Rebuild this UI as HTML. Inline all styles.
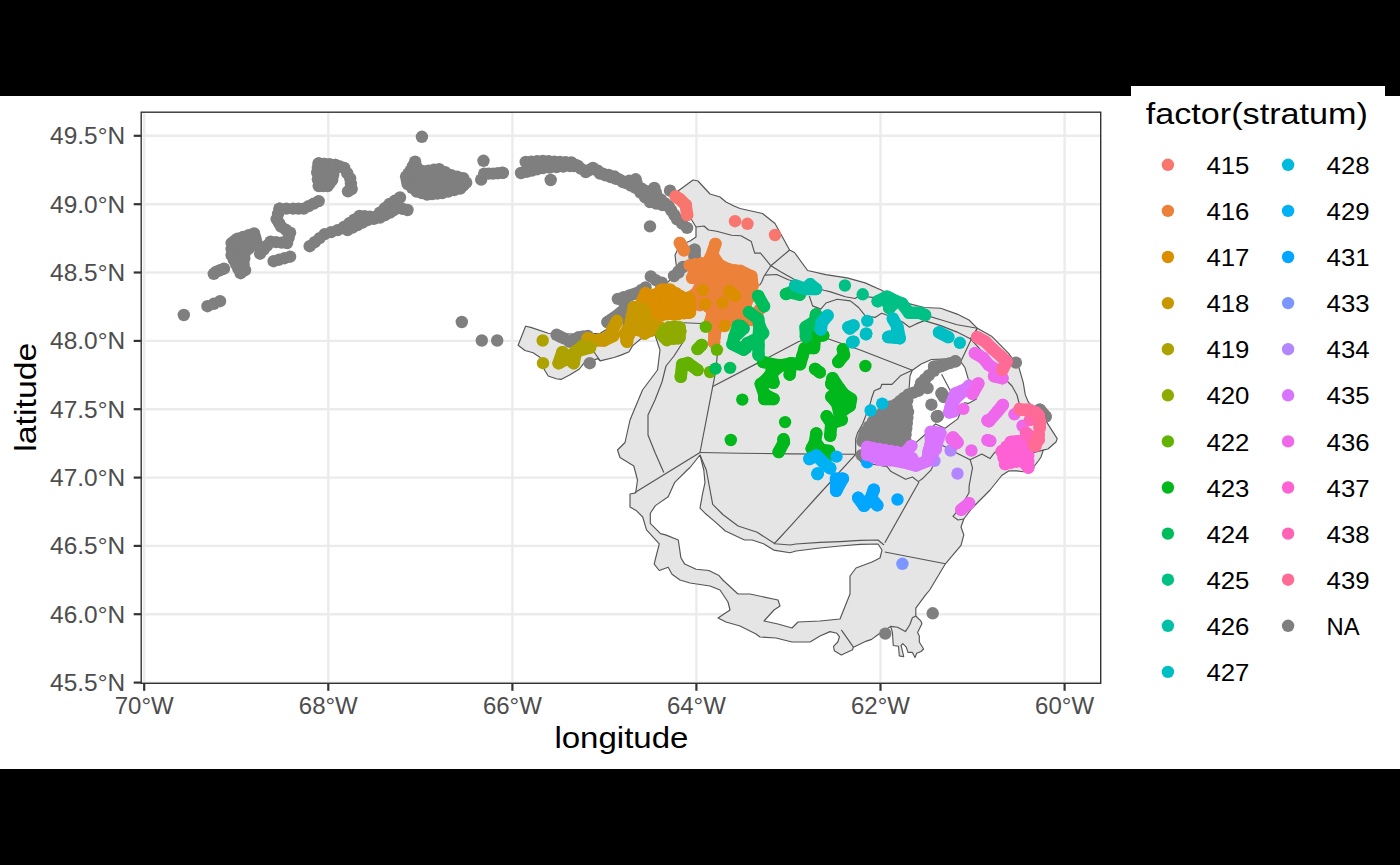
<!DOCTYPE html><html><head><meta charset="utf-8"><style>html,body{margin:0;padding:0;background:#000;overflow:hidden}svg{display:block}</style></head><body>
<svg width="1400" height="865" viewBox="0 0 1400 865">
<rect x="0" y="0" width="1400" height="865" fill="#000"/>
<rect x="0" y="96" width="1400" height="673" fill="#fff"/>
<rect x="1131" y="86" width="254" height="10" fill="#fff"/>
<rect x="141.2" y="112.2" width="959.5" height="571.0999999999999" fill="#fff"/>
<line x1="144.2" y1="112.2" x2="144.2" y2="683.3" stroke="#EBEBEB" stroke-width="2.4"/>
<line x1="328.3" y1="112.2" x2="328.3" y2="683.3" stroke="#EBEBEB" stroke-width="2.4"/>
<line x1="512.4" y1="112.2" x2="512.4" y2="683.3" stroke="#EBEBEB" stroke-width="2.4"/>
<line x1="696.4" y1="112.2" x2="696.4" y2="683.3" stroke="#EBEBEB" stroke-width="2.4"/>
<line x1="880.5" y1="112.2" x2="880.5" y2="683.3" stroke="#EBEBEB" stroke-width="2.4"/>
<line x1="1064.6" y1="112.2" x2="1064.6" y2="683.3" stroke="#EBEBEB" stroke-width="2.4"/>
<line x1="141.2" y1="135.8" x2="1100.7" y2="135.8" stroke="#EBEBEB" stroke-width="2.4"/>
<line x1="141.2" y1="204.2" x2="1100.7" y2="204.2" stroke="#EBEBEB" stroke-width="2.4"/>
<line x1="141.2" y1="272.5" x2="1100.7" y2="272.5" stroke="#EBEBEB" stroke-width="2.4"/>
<line x1="141.2" y1="340.9" x2="1100.7" y2="340.9" stroke="#EBEBEB" stroke-width="2.4"/>
<line x1="141.2" y1="409.2" x2="1100.7" y2="409.2" stroke="#EBEBEB" stroke-width="2.4"/>
<line x1="141.2" y1="477.6" x2="1100.7" y2="477.6" stroke="#EBEBEB" stroke-width="2.4"/>
<line x1="141.2" y1="545.9" x2="1100.7" y2="545.9" stroke="#EBEBEB" stroke-width="2.4"/>
<line x1="141.2" y1="614.2" x2="1100.7" y2="614.2" stroke="#EBEBEB" stroke-width="2.4"/>
<line x1="141.2" y1="682.6" x2="1100.7" y2="682.6" stroke="#EBEBEB" stroke-width="2.4"/>
<g stroke="#555" stroke-width="1.15" stroke-linejoin="round" fill="#E5E5E5">
<polygon points="693.0,180.0 698.0,181.0 710.0,194.0 720.0,197.0 726.0,202.0 734.0,206.0 740.0,208.5 762.5,213.5 775.0,223.5 789.6,250.0 794.5,252.5 807.6,270.5 825.7,274.6 847.0,277.9 865.1,282.9 881.6,290.2 898.0,299.3 907.9,303.4 924.3,307.5 940.7,308.3 957.1,314.1 969.0,320.0 977.4,328.3 992.0,336.6 1008.6,353.3 1019.0,367.8 1023.2,382.4 1025.3,394.9 1028.4,402.2 1046.8,422.4 1057.2,438.6 1056.0,442.0 1047.9,449.0 1043.3,450.1 1041.0,457.0 1038.7,460.5 1034.0,466.3 1023.2,471.8 1016.7,470.9 1008.6,470.9 1001.7,475.5 990.1,490.0 971.7,508.5 963.8,519.0 961.0,527.0 963.8,534.8 961.0,545.4 945.4,563.8 929.7,590.0 925.4,595.2 915.8,608.2 915.8,616.0 921.0,621.2 921.9,623.8 917.6,632.5 919.3,635.9 919.3,642.0 923.6,649.0 921.0,651.5 916.7,653.3 915.0,657.6 912.4,652.4 908.0,652.4 906.3,647.2 902.8,643.7 901.1,645.5 903.7,656.7 899.3,655.9 898.5,646.3 893.3,645.5 892.4,632.5 890.7,626.4 878.5,634.2 871.6,639.4 866.4,641.1 853.4,647.2 852.5,649.8 841.3,655.0 834.3,650.7 833.5,646.3 837.8,642.0 839.5,636.8 836.9,633.3 830.0,631.6 820.0,636.0 810.0,642.0 800.0,642.0 792.0,642.0 776.0,638.0 760.0,637.0 756.0,634.0 740.0,626.0 726.0,622.0 718.0,618.0 730.0,610.0 728.0,602.0 720.0,590.0 710.0,586.0 690.0,583.0 680.0,580.0 672.0,574.3 668.2,567.3 659.3,570.5 654.2,564.1 655.4,559.0 659.3,543.8 646.5,529.8 642.7,517.0 636.4,510.7 630.0,506.9 630.0,494.0 635.7,492.9 637.5,480.0 633.8,466.0 620.0,457.5 617.5,450.0 625.0,442.5 630.0,420.0 642.5,390.0 657.5,370.0 660.0,350.0 655.0,335.0 650.0,336.6 640.6,339.0 632.5,345.9 629.1,351.7 621.0,355.1 614.0,357.5 600.2,360.9 597.9,358.6 584.0,363.2 579.4,369.0 570.1,374.8 560.9,379.4 556.2,378.8 548.2,376.0 544.7,370.2 540.1,357.5 533.1,352.8 525.0,350.5 518.1,345.3 525.6,326.2 530.8,327.4 548.2,333.2 579.4,334.3 600.2,333.2 606.0,329.7 620.0,321.0 635.0,310.0 652.0,296.0 669.0,281.0 677.0,271.0 675.0,255.0 680.0,245.0 690.0,241.0 696.0,237.0 696.0,227.0 688.0,214.0 678.0,191.0"/>
<polygon points="700.0,455.0 703.8,470.0 705.0,482.7 702.5,494.2 700.0,508.2 705.0,513.2 714.0,520.9 725.4,531.0 744.5,540.0 752.1,540.0 763.5,543.8 773.7,550.1 790.0,552.7 796.0,551.0 820.0,548.0 840.0,546.0 860.0,544.4 878.0,544.0 882.0,550.0 880.0,558.0 872.0,562.0 856.0,568.0 850.0,576.0 850.0,594.0 840.0,619.0 820.0,621.0 798.0,622.0 792.0,628.0 778.0,624.0 764.0,621.0 774.0,610.0 780.0,606.0 778.0,600.0 750.0,594.0 738.0,594.0 722.8,580.0 719.0,575.6 708.9,570.5 696.1,569.2 684.7,564.1 680.9,557.8 678.3,540.0 665.6,534.9 660.5,533.6 650.3,523.4 650.3,513.2 655.4,505.6 668.2,496.7 674.5,482.7 687.2,470.0 690.0,467.5" fill="#fff"/>
<polygon points="912.3,370.3 921.2,364.0 931.4,359.5 949.2,358.9 960.8,361.6 965.0,367.8 968.0,378.2 976.4,399.0 968.3,403.4 964.7,402.7 957.7,418.9 945.0,428.2 935.5,423.9 924.0,435.5 914.7,443.6 909.8,439.0 908.5,411.0 909.0,390.0 910.0,376.0" fill="#fff"/>
<polyline points="696.0,227.0 704.0,226.0 708.5,230.0 716.6,231.2 731.6,235.2 740.9,235.8 751.3,241.6 754.7,253.1 760.5,253.1 770.9,265.8 780.2,271.6 801.0,283.2" fill="none"/>
<polyline points="770.9,265.8 764.0,276.2 761.7,282.0 759.4,285.5" fill="none"/>
<polyline points="765.1,275.1 776.7,274.5 788.3,279.7 801.0,283.2" fill="none"/>
<polyline points="789.6,250.0 770.9,265.8" fill="none"/>
<polyline points="801.0,283.7 824.0,290.2 830.6,291.9 845.4,296.8 855.3,298.5 858.6,296.0 875.0,297.6 891.4,300.9 903.0,304.2 911.0,307.5 924.3,314.9 940.7,319.8 957.1,324.7 977.4,328.3" fill="none"/>
<polyline points="809.3,296.0 812.6,305.9 820.8,309.1 826.0,303.0 837.2,299.3 850.4,300.9 858.6,307.5 865.1,315.7 875.0,317.4 881.6,313.3 895.0,318.0 903.0,322.3 909.5,327.2 916.1,323.9 924.3,320.6 940.7,325.6 957.1,332.1 970.3,338.7 977.4,328.3" fill="none"/>
<polyline points="970.3,338.7 990.0,360.0 1004.0,378.0 1012.0,386.0 1017.0,395.0 1019.0,403.0 1030.0,412.0" fill="none"/>
<polyline points="977.4,328.3 970.0,342.0 960.8,361.6" fill="none"/>
<polyline points="712.7,386.6 798.8,341.5 820.0,336.0 860.2,350.0 912.3,370.3" fill="none"/>
<polyline points="720.0,322.0 716.0,370.0 712.7,386.6 700.0,452.5" fill="none"/>
<polyline points="683.6,322.8 701.6,323.5 720.0,322.0 740.0,320.0" fill="none"/>
<polyline points="700.0,452.5 740.0,453.2 790.0,453.9 855.6,454.3" fill="none"/>
<polyline points="700.0,452.5 635.0,492.5" fill="none"/>
<polyline points="684.0,324.0 683.0,342.0 674.0,356.0 666.0,366.0 662.0,382.0 655.0,400.0 648.0,415.0 648.0,435.0 655.0,452.5 663.8,472.5" fill="none"/>
<polyline points="855.6,454.3 814.0,500.0 790.0,526.7 774.0,544.0" fill="none"/>
<polyline points="919.0,482.0 884.8,542.7" fill="none"/>
<polyline points="884.8,552.0 945.4,563.8" fill="none"/>
<polyline points="841.3,629.9 853.4,647.2" fill="none"/>
<polyline points="890.7,626.4 897.6,627.3 905.4,631.6 909.8,624.7 912.4,617.7 915.8,616.0" fill="none"/>
<polyline points="700.0,455.0 706.3,470.0 712.7,504.3 722.8,514.5 738.1,526.0 757.2,532.3 775.0,543.8 790.0,545.0 796.0,544.0 820.0,542.4 840.0,541.6 860.0,540.4 878.0,540.0 884.0,545.0" fill="none"/>
<polyline points="970.2,459.8 972.5,467.9 969.1,486.0 969.0,492.7 960.0,508.0 953.0,516.4 958.0,520.0 963.8,519.0" fill="none"/>
<polyline points="912.3,370.3 900.9,375.4 892.0,384.3 881.8,384.3 880.5,388.1 874.2,390.7 871.6,398.3 870.3,403.4 866.5,413.6 862.7,423.8 857.6,432.7 855.7,439.0 855.6,454.3 861.0,462.0 873.2,464.3 887.1,466.6 890.6,471.2 905.6,479.3 912.5,477.0 918.3,481.6 923.0,478.2 930.9,470.2 937.9,455.1 941.3,444.7 954.0,451.7 970.2,459.8 981.8,454.0 990.0,458.6 994.7,452.4 1004.5,449.0 1015.0,452.0 1028.3,451.3 1034.0,452.4 1043.3,450.1" fill="none"/>
<polyline points="941.6,374.2 953.0,395.8" fill="none"/>
<polyline points="594.0,352.0 600.2,360.9" fill="none"/>
</g>
<g>
<g fill="#7F7F7F"><circle cx="207.5" cy="306.2" r="6.2"/><circle cx="213.8" cy="303.8" r="6.2"/><circle cx="220.0" cy="301.2" r="6.2"/></g>
<g fill="#7F7F7F"><circle cx="213.8" cy="273.8" r="6.2"/><circle cx="216.5" cy="271.7" r="6.2"/><circle cx="220.2" cy="270.2" r="6.2"/><circle cx="224.0" cy="268.7" r="6.2"/></g>
<polygon points="237.6,238.6 254.1,233.4 256.3,241.6 245.1,252.2 243.6,264.2 245.1,270.2 240.6,273.2 236.1,264.2 231.6,255.2 231.6,243.1" fill="#7F7F7F" stroke="#7F7F7F" stroke-width="6" stroke-linejoin="round"/>
<g fill="#7F7F7F"><circle cx="237.6" cy="238.6" r="6.2"/><circle cx="243.1" cy="236.9" r="6.2"/><circle cx="248.6" cy="235.1" r="6.2"/><circle cx="254.1" cy="233.4" r="6.2"/><circle cx="255.2" cy="237.5" r="6.2"/><circle cx="256.3" cy="241.6" r="6.2"/><circle cx="252.6" cy="245.1" r="6.2"/><circle cx="248.8" cy="248.7" r="6.2"/><circle cx="245.1" cy="252.2" r="6.2"/><circle cx="244.3" cy="258.2" r="6.2"/><circle cx="243.6" cy="264.2" r="6.2"/><circle cx="245.1" cy="270.2" r="6.2"/><circle cx="240.6" cy="273.2" r="6.2"/><circle cx="238.3" cy="268.7" r="6.2"/><circle cx="236.1" cy="264.2" r="6.2"/><circle cx="233.8" cy="259.7" r="6.2"/><circle cx="231.6" cy="255.2" r="6.2"/><circle cx="231.6" cy="249.1" r="6.2"/><circle cx="231.6" cy="243.1" r="6.2"/><circle cx="234.6" cy="240.8" r="6.2"/></g>
<g fill="#7F7F7F"><circle cx="279.6" cy="208.6" r="6.2"/><circle cx="286.4" cy="208.6" r="6.2"/><circle cx="293.1" cy="208.6" r="6.2"/><circle cx="298.4" cy="208.6" r="6.2"/><circle cx="303.7" cy="208.6" r="6.2"/><circle cx="308.7" cy="206.1" r="6.2"/><circle cx="313.7" cy="203.6" r="6.2"/><circle cx="318.7" cy="201.1" r="6.2"/></g>
<g fill="#7F7F7F"><circle cx="279.6" cy="208.6" r="6.2"/><circle cx="278.1" cy="213.8" r="6.2"/><circle cx="276.6" cy="219.1" r="6.2"/><circle cx="278.9" cy="222.8" r="6.2"/><circle cx="281.1" cy="226.6" r="6.2"/><circle cx="285.6" cy="229.6" r="6.2"/><circle cx="290.1" cy="232.6" r="6.2"/><circle cx="288.6" cy="237.8" r="6.2"/><circle cx="287.1" cy="243.1" r="6.2"/><circle cx="281.6" cy="242.6" r="6.2"/><circle cx="276.1" cy="242.1" r="6.2"/><circle cx="270.6" cy="241.6" r="6.2"/><circle cx="267.1" cy="245.6" r="6.2"/><circle cx="263.6" cy="249.7" r="6.2"/><circle cx="260.1" cy="253.7" r="6.2"/></g>
<g fill="#7F7F7F"><circle cx="273.6" cy="261.2" r="6.2"/><circle cx="279.1" cy="259.7" r="6.2"/><circle cx="284.6" cy="258.2" r="6.2"/><circle cx="290.1" cy="256.7" r="6.2"/></g>
<g fill="#7F7F7F"><circle cx="318.7" cy="163.5" r="6.2"/><circle cx="324.2" cy="164.0" r="6.2"/><circle cx="329.7" cy="164.5" r="6.2"/><circle cx="335.2" cy="165.0" r="6.2"/><circle cx="339.7" cy="166.5" r="6.2"/><circle cx="344.2" cy="168.0" r="6.2"/><circle cx="347.2" cy="173.2" r="6.2"/><circle cx="350.2" cy="178.5" r="6.2"/><circle cx="350.9" cy="183.8" r="6.2"/><circle cx="351.7" cy="189.1" r="6.2"/><circle cx="348.0" cy="191.3" r="6.2"/></g>
<polygon points="318.7,163.5 317.2,172.5 318.7,186.1 327.7,186.1 332.2,180.0 335.2,165.0" fill="#7F7F7F" stroke="#7F7F7F" stroke-width="6" stroke-linejoin="round"/>
<g fill="#7F7F7F"><circle cx="318.7" cy="163.5" r="6.2"/><circle cx="317.9" cy="168.0" r="6.2"/><circle cx="317.2" cy="172.5" r="6.2"/><circle cx="317.9" cy="179.3" r="6.2"/><circle cx="318.7" cy="186.1" r="6.2"/><circle cx="323.2" cy="186.1" r="6.2"/><circle cx="327.7" cy="186.1" r="6.2"/><circle cx="329.9" cy="183.1" r="6.2"/><circle cx="332.2" cy="180.0" r="6.2"/><circle cx="333.2" cy="175.0" r="6.2"/><circle cx="334.2" cy="170.0" r="6.2"/><circle cx="335.2" cy="165.0" r="6.2"/><circle cx="329.7" cy="164.5" r="6.2"/><circle cx="324.2" cy="164.0" r="6.2"/></g>
<g fill="#7F7F7F"><circle cx="309.7" cy="246.2" r="6.2"/><circle cx="314.7" cy="242.2" r="6.2"/><circle cx="319.7" cy="238.1" r="6.2"/><circle cx="324.7" cy="234.1" r="6.2"/><circle cx="331.2" cy="232.1" r="6.2"/><circle cx="337.7" cy="230.1" r="6.2"/><circle cx="344.2" cy="228.1" r="6.2"/></g>
<g fill="#7F7F7F"><circle cx="347.5" cy="230.0" r="6.2"/><circle cx="352.5" cy="227.5" r="6.2"/><circle cx="357.5" cy="225.0" r="6.2"/><circle cx="362.5" cy="222.5" r="6.2"/><circle cx="367.5" cy="220.0" r="6.2"/><circle cx="373.8" cy="218.8" r="6.2"/><circle cx="380.0" cy="217.5" r="6.2"/><circle cx="385.0" cy="215.0" r="6.2"/><circle cx="390.0" cy="212.5" r="6.2"/><circle cx="393.8" cy="210.0" r="6.2"/><circle cx="397.5" cy="207.5" r="6.2"/><circle cx="402.5" cy="208.8" r="6.2"/><circle cx="407.5" cy="210.0" r="6.2"/></g>
<g fill="#7F7F7F"><circle cx="344.0" cy="227.0" r="6.2"/><circle cx="349.2" cy="223.3" r="6.2"/><circle cx="354.3" cy="219.7" r="6.2"/><circle cx="359.5" cy="216.0" r="6.2"/><circle cx="364.7" cy="216.3" r="6.2"/><circle cx="369.8" cy="216.7" r="6.2"/><circle cx="375.0" cy="217.0" r="6.2"/><circle cx="379.9" cy="212.7" r="6.2"/><circle cx="384.7" cy="208.3" r="6.2"/><circle cx="389.6" cy="204.0" r="6.2"/><circle cx="394.8" cy="200.8" r="6.2"/><circle cx="400.0" cy="197.5" r="6.2"/></g>
<polygon points="415.1,161.6 418.1,172.1 439.2,169.1 451.2,175.1 463.2,178.1 466.2,182.6 460.2,188.6 442.2,193.1 427.1,194.6 416.6,191.6 407.6,184.1 406.1,176.6 410.6,170.6" fill="#7F7F7F" stroke="#7F7F7F" stroke-width="6" stroke-linejoin="round"/>
<g fill="#7F7F7F"><circle cx="415.1" cy="161.6" r="6.2"/><circle cx="416.6" cy="166.8" r="6.2"/><circle cx="418.1" cy="172.1" r="6.2"/><circle cx="423.4" cy="171.3" r="6.2"/><circle cx="428.6" cy="170.6" r="6.2"/><circle cx="433.9" cy="169.8" r="6.2"/><circle cx="439.2" cy="169.1" r="6.2"/><circle cx="445.2" cy="172.1" r="6.2"/><circle cx="451.2" cy="175.1" r="6.2"/><circle cx="457.2" cy="176.6" r="6.2"/><circle cx="463.2" cy="178.1" r="6.2"/><circle cx="466.2" cy="182.6" r="6.2"/><circle cx="463.2" cy="185.6" r="6.2"/><circle cx="460.2" cy="188.6" r="6.2"/><circle cx="454.2" cy="190.1" r="6.2"/><circle cx="448.2" cy="191.6" r="6.2"/><circle cx="442.2" cy="193.1" r="6.2"/><circle cx="437.2" cy="193.6" r="6.2"/><circle cx="432.1" cy="194.1" r="6.2"/><circle cx="427.1" cy="194.6" r="6.2"/><circle cx="421.9" cy="193.1" r="6.2"/><circle cx="416.6" cy="191.6" r="6.2"/><circle cx="412.1" cy="187.8" r="6.2"/><circle cx="407.6" cy="184.1" r="6.2"/><circle cx="406.9" cy="180.3" r="6.2"/><circle cx="406.1" cy="176.6" r="6.2"/><circle cx="408.4" cy="173.6" r="6.2"/><circle cx="410.6" cy="170.6" r="6.2"/><circle cx="412.9" cy="166.1" r="6.2"/></g>
<g fill="#7F7F7F"><circle cx="481.2" cy="179.6" r="6.2"/><circle cx="484.2" cy="173.6" r="6.2"/><circle cx="488.7" cy="173.6" r="6.2"/><circle cx="493.2" cy="173.6" r="6.2"/><circle cx="497.8" cy="173.2" r="6.2"/><circle cx="502.3" cy="172.8" r="6.2"/></g>
<g fill="#7F7F7F"><circle cx="521.0" cy="173.0" r="6.2"/><circle cx="526.5" cy="171.8" r="6.2"/><circle cx="532.0" cy="170.5" r="6.2"/><circle cx="537.4" cy="169.2" r="6.2"/><circle cx="542.9" cy="168.0" r="6.2"/><circle cx="549.7" cy="167.5" r="6.2"/><circle cx="556.5" cy="167.0" r="6.2"/><circle cx="563.2" cy="166.5" r="6.2"/><circle cx="570.0" cy="166.0" r="6.2"/><circle cx="574.0" cy="166.0" r="6.2"/><circle cx="578.0" cy="166.0" r="6.2"/></g>
<g fill="#7F7F7F"><circle cx="525.7" cy="162.0" r="6.2"/><circle cx="531.4" cy="161.7" r="6.2"/><circle cx="537.2" cy="161.3" r="6.2"/><circle cx="542.9" cy="161.0" r="6.2"/><circle cx="548.6" cy="161.3" r="6.2"/><circle cx="554.3" cy="161.6" r="6.2"/><circle cx="560.0" cy="161.9" r="6.2"/><circle cx="565.7" cy="162.2" r="6.2"/><circle cx="571.4" cy="162.5" r="6.2"/></g>
<g fill="#7F7F7F"><circle cx="575.7" cy="165.0" r="6.2"/><circle cx="580.7" cy="168.6" r="6.2"/><circle cx="585.7" cy="172.1" r="6.2"/><circle cx="589.3" cy="170.0" r="6.2"/><circle cx="592.9" cy="167.9" r="6.2"/><circle cx="597.9" cy="170.8" r="6.2"/><circle cx="602.9" cy="173.6" r="6.2"/><circle cx="608.6" cy="175.0" r="6.2"/><circle cx="614.3" cy="176.4" r="6.2"/><circle cx="618.6" cy="179.2" r="6.2"/><circle cx="622.9" cy="182.1" r="6.2"/><circle cx="629.3" cy="180.7" r="6.2"/><circle cx="635.7" cy="179.3" r="6.2"/><circle cx="636.4" cy="182.9" r="6.2"/><circle cx="637.1" cy="186.4" r="6.2"/><circle cx="641.9" cy="188.8" r="6.2"/><circle cx="646.6" cy="191.2" r="6.2"/><circle cx="651.4" cy="193.6" r="6.2"/><circle cx="654.3" cy="187.9" r="6.2"/><circle cx="655.7" cy="192.2" r="6.2"/><circle cx="657.1" cy="196.4" r="6.2"/><circle cx="660.9" cy="199.7" r="6.2"/><circle cx="664.8" cy="203.1" r="6.2"/><circle cx="668.6" cy="206.4" r="6.2"/><circle cx="671.4" cy="210.7" r="6.2"/><circle cx="674.3" cy="215.0" r="6.2"/><circle cx="677.1" cy="219.3" r="6.2"/><circle cx="682.1" cy="223.6" r="6.2"/><circle cx="687.1" cy="227.9" r="6.2"/></g>
<g fill="#7F7F7F"><circle cx="600.0" cy="173.6" r="6.2"/><circle cx="605.4" cy="175.4" r="6.2"/><circle cx="610.7" cy="177.1" r="6.2"/><circle cx="616.0" cy="178.9" r="6.2"/><circle cx="621.4" cy="180.7" r="6.2"/><circle cx="626.2" cy="183.1" r="6.2"/><circle cx="630.9" cy="185.5" r="6.2"/><circle cx="635.7" cy="187.9" r="6.2"/><circle cx="640.5" cy="192.6" r="6.2"/><circle cx="645.2" cy="197.4" r="6.2"/><circle cx="650.0" cy="202.1" r="6.2"/><circle cx="656.2" cy="203.5" r="6.2"/><circle cx="662.4" cy="205.0" r="6.2"/><circle cx="668.6" cy="206.4" r="6.2"/></g>
<g fill="#7F7F7F"><circle cx="650.8" cy="276.4" r="6.2"/><circle cx="655.7" cy="280.1" r="6.2"/><circle cx="660.6" cy="283.9" r="6.2"/></g>
<g fill="#7F7F7F"><circle cx="674.0" cy="276.0" r="6.2"/><circle cx="678.5" cy="271.5" r="6.2"/><circle cx="683.0" cy="267.0" r="6.2"/></g>
<g fill="#7F7F7F"><circle cx="645.6" cy="287.4" r="6.2"/><circle cx="641.0" cy="290.3" r="6.2"/><circle cx="636.4" cy="293.2" r="6.2"/><circle cx="632.9" cy="294.4" r="6.2"/><circle cx="629.4" cy="295.5" r="6.2"/><circle cx="623.6" cy="297.2" r="6.2"/><circle cx="617.9" cy="298.9" r="6.2"/></g>
<g fill="#7F7F7F"><circle cx="556.6" cy="334.8" r="6.2"/><circle cx="560.0" cy="336.5" r="6.2"/><circle cx="563.5" cy="338.2" r="6.2"/><circle cx="569.3" cy="341.7" r="6.2"/><circle cx="574.0" cy="339.4" r="6.2"/><circle cx="578.6" cy="337.1" r="6.2"/><circle cx="583.2" cy="336.5" r="6.2"/><circle cx="587.8" cy="335.9" r="6.2"/></g>
<polygon points="877.0,416.0 893.0,407.0 904.0,398.0 908.0,412.0 905.0,440.0 888.0,444.0 866.0,441.0 865.0,432.0" fill="#7F7F7F" stroke="#7F7F7F" stroke-width="6" stroke-linejoin="round"/>
<g fill="#7F7F7F"><circle cx="877.0" cy="416.0" r="6.2"/><circle cx="882.3" cy="413.0" r="6.2"/><circle cx="887.7" cy="410.0" r="6.2"/><circle cx="893.0" cy="407.0" r="6.2"/><circle cx="896.7" cy="404.0" r="6.2"/><circle cx="900.3" cy="401.0" r="6.2"/><circle cx="904.0" cy="398.0" r="6.2"/><circle cx="905.3" cy="402.7" r="6.2"/><circle cx="906.7" cy="407.3" r="6.2"/><circle cx="908.0" cy="412.0" r="6.2"/><circle cx="907.4" cy="417.6" r="6.2"/><circle cx="906.8" cy="423.2" r="6.2"/><circle cx="906.2" cy="428.8" r="6.2"/><circle cx="905.6" cy="434.4" r="6.2"/><circle cx="905.0" cy="440.0" r="6.2"/><circle cx="899.3" cy="441.3" r="6.2"/><circle cx="893.7" cy="442.7" r="6.2"/><circle cx="888.0" cy="444.0" r="6.2"/><circle cx="882.5" cy="443.2" r="6.2"/><circle cx="877.0" cy="442.5" r="6.2"/><circle cx="871.5" cy="441.8" r="6.2"/><circle cx="866.0" cy="441.0" r="6.2"/><circle cx="865.5" cy="436.5" r="6.2"/><circle cx="865.0" cy="432.0" r="6.2"/><circle cx="869.0" cy="426.7" r="6.2"/><circle cx="873.0" cy="421.3" r="6.2"/></g>
<g fill="#7F7F7F"><circle cx="955.5" cy="361.4" r="6.2"/><circle cx="950.0" cy="363.1" r="6.2"/><circle cx="944.5" cy="364.8" r="6.2"/><circle cx="939.0" cy="366.5" r="6.2"/><circle cx="933.9" cy="370.9" r="6.2"/><circle cx="928.8" cy="375.4" r="6.2"/><circle cx="925.0" cy="379.2" r="6.2"/><circle cx="921.2" cy="383.0" r="6.2"/><circle cx="920.0" cy="386.9" r="6.2"/><circle cx="918.7" cy="390.7" r="6.2"/><circle cx="913.6" cy="392.6" r="6.2"/><circle cx="908.5" cy="394.5" r="6.2"/><circle cx="907.2" cy="400.2" r="6.2"/><circle cx="906.0" cy="406.0" r="6.2"/></g>
<g fill="#7F7F7F"><circle cx="183.8" cy="315.0" r="6.2"/><circle cx="483.5" cy="160.8" r="6.2"/><circle cx="421.9" cy="136.8" r="6.2"/><circle cx="461.8" cy="322.0" r="6.2"/><circle cx="481.8" cy="340.5" r="6.2"/><circle cx="497.2" cy="340.5" r="6.2"/><circle cx="502.9" cy="172.9" r="6.2"/><circle cx="670.0" cy="190.7" r="6.2"/><circle cx="550.7" cy="180.0" r="6.2"/><circle cx="650.0" cy="226.4" r="6.2"/><circle cx="694.6" cy="249.7" r="6.2"/><circle cx="694.6" cy="256.6" r="6.2"/><circle cx="678.5" cy="272.5" r="6.2"/><circle cx="661.8" cy="282.7" r="6.2"/><circle cx="624.8" cy="301.2" r="6.2"/><circle cx="624.8" cy="309.3" r="6.2"/><circle cx="617.9" cy="315.1" r="6.2"/><circle cx="627.1" cy="319.7" r="6.2"/><circle cx="607.5" cy="322.1" r="6.2"/><circle cx="589.8" cy="363.2" r="6.2"/><circle cx="890.5" cy="406.6" r="6.2"/><circle cx="905.5" cy="414.7" r="6.2"/><circle cx="896.2" cy="418.2" r="6.2"/><circle cx="882.4" cy="417.0" r="6.2"/><circle cx="872.0" cy="426.2" r="6.2"/><circle cx="865.0" cy="433.2" r="6.2"/><circle cx="862.7" cy="441.3" r="6.2"/><circle cx="880.1" cy="428.6" r="6.2"/><circle cx="890.5" cy="426.2" r="6.2"/><circle cx="900.9" cy="426.2" r="6.2"/><circle cx="903.2" cy="437.8" r="6.2"/><circle cx="893.9" cy="437.8" r="6.2"/><circle cx="882.4" cy="437.8" r="6.2"/><circle cx="873.1" cy="436.6" r="6.2"/><circle cx="890.5" cy="445.9" r="6.2"/><circle cx="903.2" cy="444.7" r="6.2"/><circle cx="861.6" cy="455.1" r="6.2"/><circle cx="871.8" cy="426.6" r="6.2"/><circle cx="890.3" cy="408.2" r="6.2"/><circle cx="941.6" cy="393.2" r="6.2"/><circle cx="931.4" cy="404.7" r="6.2"/><circle cx="937.7" cy="416.1" r="6.2"/><circle cx="927.6" cy="388.1" r="6.2"/><circle cx="955.2" cy="361.3" r="6.2"/><circle cx="941.3" cy="366.0" r="6.2"/><circle cx="934.1" cy="366.6" r="6.2"/><circle cx="1015.9" cy="362.6" r="6.2"/><circle cx="1039.8" cy="409.7" r="6.2"/><circle cx="1045.6" cy="416.6" r="6.2"/><circle cx="943.9" cy="396.9" r="6.2"/><circle cx="936.9" cy="416.6" r="6.2"/><circle cx="932.7" cy="613.3" r="6.2"/><circle cx="885.3" cy="633.6" r="6.2"/></g>
<path d="M694.6 249.7L694.6 256.6M624.8 301.2L624.8 309.3M624.8 309.3L617.9 315.1M624.8 309.3L627.1 319.7M617.9 315.1L627.1 319.7M617.9 315.1L607.5 322.1M890.5 406.6L890.3 408.2M905.5 414.7L896.2 418.2M905.5 414.7L900.9 426.2M896.2 418.2L890.5 426.2M896.2 418.2L900.9 426.2M896.2 418.2L890.3 408.2M882.4 417.0L880.1 428.6M882.4 417.0L890.5 426.2M882.4 417.0L890.3 408.2M872.0 426.2L865.0 433.2M872.0 426.2L880.1 428.6M872.0 426.2L873.1 436.6M872.0 426.2L871.8 426.6M865.0 433.2L862.7 441.3M865.0 433.2L873.1 436.6M865.0 433.2L871.8 426.6M862.7 441.3L873.1 436.6M880.1 428.6L890.5 426.2M880.1 428.6L882.4 437.8M880.1 428.6L873.1 436.6M880.1 428.6L871.8 426.6M890.5 426.2L900.9 426.2M890.5 426.2L893.9 437.8M900.9 426.2L903.2 437.8M903.2 437.8L893.9 437.8M903.2 437.8L903.2 444.7M893.9 437.8L882.4 437.8M893.9 437.8L890.5 445.9M893.9 437.8L903.2 444.7M882.4 437.8L873.1 436.6M882.4 437.8L890.5 445.9M873.1 436.6L871.8 426.6M941.6 393.2L943.9 396.9M937.7 416.1L936.9 416.6M941.3 366.0L934.1 366.6M1039.8 409.7L1045.6 416.6" stroke="#7F7F7F" stroke-width="12.4" stroke-linecap="round" fill="none"/>
<path d="M624.8 309.3L617.9 315.1L627.1 319.7ZM905.5 414.7L896.2 418.2L900.9 426.2ZM896.2 418.2L890.5 426.2L900.9 426.2ZM882.4 417.0L880.1 428.6L890.5 426.2ZM872.0 426.2L865.0 433.2L873.1 436.6ZM872.0 426.2L865.0 433.2L871.8 426.6ZM872.0 426.2L880.1 428.6L873.1 436.6ZM872.0 426.2L880.1 428.6L871.8 426.6ZM872.0 426.2L873.1 436.6L871.8 426.6ZM865.0 433.2L862.7 441.3L873.1 436.6ZM865.0 433.2L873.1 436.6L871.8 426.6ZM880.1 428.6L882.4 437.8L873.1 436.6ZM880.1 428.6L873.1 436.6L871.8 426.6ZM903.2 437.8L893.9 437.8L903.2 444.7ZM893.9 437.8L882.4 437.8L890.5 445.9Z" fill="#7F7F7F"/>
<g fill="#F8766D"><circle cx="675.7" cy="196.4" r="6.2"/><circle cx="680.0" cy="199.3" r="6.2"/><circle cx="685.7" cy="205.0" r="6.2"/><circle cx="687.1" cy="215.0" r="6.2"/><circle cx="735.0" cy="221.2" r="6.2"/><circle cx="747.5" cy="223.8" r="6.2"/><circle cx="775.0" cy="235.0" r="6.2"/></g>
<path d="M675.7 196.4L680.0 199.3M680.0 199.3L685.7 205.0M685.7 205.0L687.1 215.0" stroke="#F8766D" stroke-width="12.4" stroke-linecap="round" fill="none"/>
<g fill="#EC8239"><circle cx="689.6" cy="265.1" r="6.2"/><circle cx="695.6" cy="264.2" r="6.2"/><circle cx="701.6" cy="263.3" r="6.2"/><circle cx="706.2" cy="263.9" r="6.2"/><circle cx="710.9" cy="264.5" r="6.2"/><circle cx="715.5" cy="265.1" r="6.2"/><circle cx="720.1" cy="267.0" r="6.2"/><circle cx="724.7" cy="268.8" r="6.2"/><circle cx="729.9" cy="269.4" r="6.2"/><circle cx="735.2" cy="270.1" r="6.2"/><circle cx="740.4" cy="270.7" r="6.2"/><circle cx="745.5" cy="273.4" r="6.2"/><circle cx="750.6" cy="276.2" r="6.2"/><circle cx="751.5" cy="280.9" r="6.2"/><circle cx="752.4" cy="285.5" r="6.2"/><circle cx="751.5" cy="291.1" r="6.2"/><circle cx="750.6" cy="296.6" r="6.2"/></g>
<g fill="#EC8239"><circle cx="692.0" cy="278.0" r="6.2"/><circle cx="698.5" cy="279.5" r="6.2"/><circle cx="705.0" cy="281.0" r="6.2"/><circle cx="711.7" cy="280.3" r="6.2"/><circle cx="718.3" cy="279.7" r="6.2"/><circle cx="725.0" cy="279.0" r="6.2"/><circle cx="730.0" cy="280.7" r="6.2"/><circle cx="735.0" cy="282.3" r="6.2"/><circle cx="740.0" cy="284.0" r="6.2"/></g>
<g fill="#EC8239"><circle cx="693.7" cy="295.0" r="6.2"/><circle cx="699.1" cy="294.3" r="6.2"/><circle cx="704.6" cy="293.7" r="6.2"/><circle cx="710.0" cy="293.0" r="6.2"/><circle cx="715.0" cy="293.3" r="6.2"/><circle cx="720.0" cy="293.7" r="6.2"/><circle cx="725.0" cy="294.0" r="6.2"/><circle cx="730.0" cy="294.7" r="6.2"/><circle cx="735.0" cy="295.3" r="6.2"/><circle cx="740.0" cy="296.0" r="6.2"/><circle cx="745.0" cy="296.0" r="6.2"/><circle cx="750.0" cy="296.0" r="6.2"/></g>
<g fill="#EC8239"><circle cx="745.0" cy="305.0" r="6.2"/><circle cx="741.5" cy="309.5" r="6.2"/><circle cx="738.0" cy="314.0" r="6.2"/><circle cx="741.0" cy="317.0" r="6.2"/><circle cx="744.0" cy="320.0" r="6.2"/><circle cx="748.0" cy="320.0" r="6.2"/><circle cx="752.0" cy="320.0" r="6.2"/></g>
<g fill="#EC8239"><circle cx="700.0" cy="300.0" r="6.2"/><circle cx="704.3" cy="303.7" r="6.2"/><circle cx="708.7" cy="307.3" r="6.2"/><circle cx="713.0" cy="311.0" r="6.2"/><circle cx="718.5" cy="312.0" r="6.2"/><circle cx="724.0" cy="313.0" r="6.2"/><circle cx="728.0" cy="310.3" r="6.2"/><circle cx="732.0" cy="307.7" r="6.2"/><circle cx="736.0" cy="305.0" r="6.2"/></g>
<g fill="#EC8239"><circle cx="715.9" cy="326.6" r="6.2"/><circle cx="715.3" cy="331.8" r="6.2"/><circle cx="714.6" cy="337.1" r="6.2"/><circle cx="714.0" cy="342.3" r="6.2"/></g>
<g fill="#EC8239"><circle cx="715.4" cy="243.9" r="6.2"/><circle cx="712.0" cy="254.3" r="6.2"/><circle cx="707.3" cy="263.5" r="6.2"/><circle cx="694.6" cy="264.7" r="6.2"/><circle cx="718.9" cy="264.7" r="6.2"/><circle cx="728.2" cy="269.3" r="6.2"/><circle cx="740.9" cy="271.6" r="6.2"/><circle cx="751.3" cy="276.2" r="6.2"/><circle cx="752.4" cy="285.5" r="6.2"/><circle cx="749.0" cy="294.7" r="6.2"/><circle cx="745.5" cy="305.1" r="6.2"/><circle cx="738.6" cy="314.4" r="6.2"/><circle cx="744.3" cy="319.0" r="6.2"/><circle cx="693.5" cy="276.2" r="6.2"/><circle cx="703.9" cy="278.6" r="6.2"/><circle cx="714.3" cy="279.7" r="6.2"/><circle cx="724.7" cy="278.6" r="6.2"/><circle cx="694.6" cy="295.9" r="6.2"/><circle cx="707.3" cy="292.4" r="6.2"/><circle cx="713.1" cy="297.1" r="6.2"/><circle cx="722.4" cy="293.6" r="6.2"/><circle cx="739.7" cy="285.5" r="6.2"/><circle cx="735.1" cy="297.1" r="6.2"/><circle cx="736.2" cy="305.1" r="6.2"/><circle cx="713.1" cy="310.9" r="6.2"/><circle cx="724.7" cy="313.2" r="6.2"/><circle cx="724.7" cy="305.1" r="6.2"/><circle cx="716.6" cy="326.0" r="6.2"/><circle cx="759.4" cy="309.8" r="6.2"/><circle cx="679.9" cy="242.9" r="6.2"/><circle cx="684.0" cy="250.3" r="6.2"/><circle cx="715.9" cy="326.6" r="6.2"/><circle cx="714.0" cy="342.3" r="6.2"/><circle cx="710.3" cy="322.0" r="6.2"/><circle cx="714.5" cy="334.0" r="6.2"/><circle cx="700.0" cy="270.0" r="6.2"/><circle cx="710.0" cy="272.0" r="6.2"/><circle cx="720.0" cy="272.0" r="6.2"/><circle cx="730.0" cy="276.0" r="6.2"/><circle cx="740.0" cy="278.0" r="6.2"/><circle cx="748.0" cy="282.0" r="6.2"/><circle cx="700.0" cy="287.0" r="6.2"/><circle cx="712.0" cy="287.0" r="6.2"/><circle cx="725.0" cy="286.0" r="6.2"/><circle cx="735.0" cy="290.0" r="6.2"/><circle cx="745.0" cy="290.0" r="6.2"/><circle cx="700.0" cy="305.0" r="6.2"/><circle cx="713.0" cy="303.0" r="6.2"/><circle cx="728.0" cy="308.0" r="6.2"/><circle cx="740.0" cy="310.0" r="6.2"/><circle cx="718.0" cy="320.0" r="6.2"/><circle cx="730.0" cy="320.0" r="6.2"/><circle cx="705.0" cy="296.0" r="6.2"/><circle cx="718.0" cy="297.0" r="6.2"/><circle cx="745.0" cy="297.0" r="6.2"/></g>
<path d="M715.4 243.9L712.0 254.3M712.0 254.3L707.3 263.5M712.0 254.3L718.9 264.7M707.3 263.5L718.9 264.7M707.3 263.5L700.0 270.0M707.3 263.5L710.0 272.0M694.6 264.7L693.5 276.2M694.6 264.7L700.0 270.0M718.9 264.7L728.2 269.3M718.9 264.7L710.0 272.0M718.9 264.7L720.0 272.0M728.2 269.3L724.7 278.6M728.2 269.3L720.0 272.0M728.2 269.3L730.0 276.0M740.9 271.6L751.3 276.2M740.9 271.6L730.0 276.0M740.9 271.6L740.0 278.0M740.9 271.6L748.0 282.0M751.3 276.2L752.4 285.5M751.3 276.2L740.0 278.0M751.3 276.2L748.0 282.0M752.4 285.5L749.0 294.7M752.4 285.5L748.0 282.0M752.4 285.5L745.0 290.0M749.0 294.7L745.5 305.1M749.0 294.7L745.0 290.0M749.0 294.7L745.0 297.0M745.5 305.1L738.6 314.4M745.5 305.1L736.2 305.1M745.5 305.1L740.0 310.0M745.5 305.1L745.0 297.0M738.6 314.4L744.3 319.0M738.6 314.4L736.2 305.1M738.6 314.4L728.0 308.0M738.6 314.4L740.0 310.0M738.6 314.4L730.0 320.0M744.3 319.0L740.0 310.0M693.5 276.2L703.9 278.6M693.5 276.2L700.0 270.0M703.9 278.6L714.3 279.7M703.9 278.6L700.0 270.0M703.9 278.6L710.0 272.0M703.9 278.6L700.0 287.0M703.9 278.6L712.0 287.0M714.3 279.7L724.7 278.6M714.3 279.7L710.0 272.0M714.3 279.7L720.0 272.0M714.3 279.7L712.0 287.0M714.3 279.7L725.0 286.0M724.7 278.6L720.0 272.0M724.7 278.6L730.0 276.0M724.7 278.6L725.0 286.0M694.6 295.9L700.0 287.0M694.6 295.9L700.0 305.0M694.6 295.9L705.0 296.0M707.3 292.4L713.1 297.1M707.3 292.4L700.0 287.0M707.3 292.4L712.0 287.0M707.3 292.4L713.0 303.0M707.3 292.4L705.0 296.0M707.3 292.4L718.0 297.0M713.1 297.1L722.4 293.6M713.1 297.1L712.0 287.0M713.1 297.1L713.0 303.0M713.1 297.1L705.0 296.0M713.1 297.1L718.0 297.0M722.4 293.6L724.7 305.1M722.4 293.6L712.0 287.0M722.4 293.6L725.0 286.0M722.4 293.6L718.0 297.0M739.7 285.5L735.1 297.1M739.7 285.5L740.0 278.0M739.7 285.5L748.0 282.0M739.7 285.5L735.0 290.0M739.7 285.5L745.0 290.0M735.1 297.1L736.2 305.1M735.1 297.1L735.0 290.0M735.1 297.1L745.0 290.0M735.1 297.1L745.0 297.0M736.2 305.1L724.7 305.1M736.2 305.1L728.0 308.0M736.2 305.1L740.0 310.0M736.2 305.1L745.0 297.0M713.1 310.9L724.7 313.2M713.1 310.9L710.3 322.0M713.1 310.9L713.0 303.0M713.1 310.9L718.0 320.0M724.7 313.2L724.7 305.1M724.7 313.2L728.0 308.0M724.7 313.2L718.0 320.0M724.7 313.2L730.0 320.0M724.7 305.1L713.0 303.0M724.7 305.1L728.0 308.0M724.7 305.1L718.0 297.0M716.6 326.0L715.9 326.6M716.6 326.0L710.3 322.0M716.6 326.0L714.5 334.0M716.6 326.0L718.0 320.0M679.9 242.9L684.0 250.3M715.9 326.6L710.3 322.0M715.9 326.6L714.5 334.0M715.9 326.6L718.0 320.0M714.0 342.3L714.5 334.0M710.3 322.0L718.0 320.0M700.0 270.0L710.0 272.0M710.0 272.0L720.0 272.0M720.0 272.0L730.0 276.0M730.0 276.0L740.0 278.0M730.0 276.0L725.0 286.0M740.0 278.0L748.0 282.0M748.0 282.0L745.0 290.0M700.0 287.0L712.0 287.0M700.0 287.0L705.0 296.0M712.0 287.0L705.0 296.0M712.0 287.0L718.0 297.0M725.0 286.0L735.0 290.0M735.0 290.0L745.0 290.0M735.0 290.0L745.0 297.0M745.0 290.0L745.0 297.0M700.0 305.0L705.0 296.0M713.0 303.0L705.0 296.0M713.0 303.0L718.0 297.0M728.0 308.0L740.0 310.0M728.0 308.0L730.0 320.0M718.0 320.0L730.0 320.0" stroke="#EC8239" stroke-width="12.4" stroke-linecap="round" fill="none"/>
<path d="M712.0 254.3L707.3 263.5L718.9 264.7ZM707.3 263.5L718.9 264.7L710.0 272.0ZM707.3 263.5L700.0 270.0L710.0 272.0ZM694.6 264.7L693.5 276.2L700.0 270.0ZM718.9 264.7L728.2 269.3L720.0 272.0ZM718.9 264.7L710.0 272.0L720.0 272.0ZM728.2 269.3L724.7 278.6L720.0 272.0ZM728.2 269.3L724.7 278.6L730.0 276.0ZM728.2 269.3L720.0 272.0L730.0 276.0ZM740.9 271.6L751.3 276.2L740.0 278.0ZM740.9 271.6L751.3 276.2L748.0 282.0ZM740.9 271.6L730.0 276.0L740.0 278.0ZM740.9 271.6L740.0 278.0L748.0 282.0ZM751.3 276.2L752.4 285.5L748.0 282.0ZM751.3 276.2L740.0 278.0L748.0 282.0ZM752.4 285.5L749.0 294.7L745.0 290.0ZM752.4 285.5L748.0 282.0L745.0 290.0ZM749.0 294.7L745.5 305.1L745.0 297.0ZM749.0 294.7L745.0 290.0L745.0 297.0ZM745.5 305.1L738.6 314.4L736.2 305.1ZM745.5 305.1L738.6 314.4L740.0 310.0ZM745.5 305.1L736.2 305.1L740.0 310.0ZM745.5 305.1L736.2 305.1L745.0 297.0ZM738.6 314.4L744.3 319.0L740.0 310.0ZM738.6 314.4L736.2 305.1L728.0 308.0ZM738.6 314.4L736.2 305.1L740.0 310.0ZM738.6 314.4L728.0 308.0L740.0 310.0ZM738.6 314.4L728.0 308.0L730.0 320.0ZM693.5 276.2L703.9 278.6L700.0 270.0ZM703.9 278.6L714.3 279.7L710.0 272.0ZM703.9 278.6L714.3 279.7L712.0 287.0ZM703.9 278.6L700.0 270.0L710.0 272.0ZM703.9 278.6L700.0 287.0L712.0 287.0ZM714.3 279.7L724.7 278.6L720.0 272.0ZM714.3 279.7L724.7 278.6L725.0 286.0ZM714.3 279.7L710.0 272.0L720.0 272.0ZM724.7 278.6L720.0 272.0L730.0 276.0ZM724.7 278.6L730.0 276.0L725.0 286.0ZM694.6 295.9L700.0 287.0L705.0 296.0ZM694.6 295.9L700.0 305.0L705.0 296.0ZM707.3 292.4L713.1 297.1L712.0 287.0ZM707.3 292.4L713.1 297.1L713.0 303.0ZM707.3 292.4L713.1 297.1L705.0 296.0ZM707.3 292.4L713.1 297.1L718.0 297.0ZM707.3 292.4L700.0 287.0L712.0 287.0ZM707.3 292.4L700.0 287.0L705.0 296.0ZM707.3 292.4L712.0 287.0L705.0 296.0ZM707.3 292.4L712.0 287.0L718.0 297.0ZM707.3 292.4L713.0 303.0L705.0 296.0ZM707.3 292.4L713.0 303.0L718.0 297.0ZM713.1 297.1L722.4 293.6L712.0 287.0ZM713.1 297.1L722.4 293.6L718.0 297.0ZM713.1 297.1L712.0 287.0L705.0 296.0ZM713.1 297.1L712.0 287.0L718.0 297.0ZM713.1 297.1L713.0 303.0L705.0 296.0ZM713.1 297.1L713.0 303.0L718.0 297.0ZM722.4 293.6L724.7 305.1L718.0 297.0ZM722.4 293.6L712.0 287.0L718.0 297.0ZM739.7 285.5L735.1 297.1L735.0 290.0ZM739.7 285.5L735.1 297.1L745.0 290.0ZM739.7 285.5L740.0 278.0L748.0 282.0ZM739.7 285.5L748.0 282.0L745.0 290.0ZM739.7 285.5L735.0 290.0L745.0 290.0ZM735.1 297.1L736.2 305.1L745.0 297.0ZM735.1 297.1L735.0 290.0L745.0 290.0ZM735.1 297.1L735.0 290.0L745.0 297.0ZM735.1 297.1L745.0 290.0L745.0 297.0ZM736.2 305.1L724.7 305.1L728.0 308.0ZM736.2 305.1L728.0 308.0L740.0 310.0ZM713.1 310.9L724.7 313.2L718.0 320.0ZM713.1 310.9L710.3 322.0L718.0 320.0ZM724.7 313.2L724.7 305.1L728.0 308.0ZM724.7 313.2L728.0 308.0L730.0 320.0ZM724.7 313.2L718.0 320.0L730.0 320.0ZM724.7 305.1L713.0 303.0L718.0 297.0ZM716.6 326.0L715.9 326.6L710.3 322.0ZM716.6 326.0L715.9 326.6L714.5 334.0ZM716.6 326.0L715.9 326.6L718.0 320.0ZM716.6 326.0L710.3 322.0L718.0 320.0ZM715.9 326.6L710.3 322.0L718.0 320.0ZM700.0 287.0L712.0 287.0L705.0 296.0ZM735.0 290.0L745.0 290.0L745.0 297.0Z" fill="#EC8239"/>
<polygon points="644.7,300.5 659.5,291.3 676.1,293.1 689.1,301.4 690.0,312.5 678.0,314.4 661.4,314.4 650.3,311.6" fill="#DB8E00" stroke="#DB8E00" stroke-width="6" stroke-linejoin="round"/>
<g fill="#DB8E00"><circle cx="644.7" cy="300.5" r="6.2"/><circle cx="649.6" cy="297.4" r="6.2"/><circle cx="654.6" cy="294.4" r="6.2"/><circle cx="659.5" cy="291.3" r="6.2"/><circle cx="665.0" cy="291.9" r="6.2"/><circle cx="670.6" cy="292.5" r="6.2"/><circle cx="676.1" cy="293.1" r="6.2"/><circle cx="680.4" cy="295.9" r="6.2"/><circle cx="684.8" cy="298.6" r="6.2"/><circle cx="689.1" cy="301.4" r="6.2"/><circle cx="689.5" cy="306.9" r="6.2"/><circle cx="690.0" cy="312.5" r="6.2"/><circle cx="684.0" cy="313.4" r="6.2"/><circle cx="678.0" cy="314.4" r="6.2"/><circle cx="672.5" cy="314.4" r="6.2"/><circle cx="666.9" cy="314.4" r="6.2"/><circle cx="661.4" cy="314.4" r="6.2"/><circle cx="655.8" cy="313.0" r="6.2"/><circle cx="650.3" cy="311.6" r="6.2"/><circle cx="647.5" cy="306.1" r="6.2"/></g>
<g fill="#DB8E00"><circle cx="645.6" cy="293.2" r="6.2"/><circle cx="661.8" cy="289.7" r="6.2"/><circle cx="669.9" cy="289.7" r="6.2"/><circle cx="675.7" cy="294.3" r="6.2"/><circle cx="688.4" cy="297.8" r="6.2"/><circle cx="688.4" cy="312.8" r="6.2"/><circle cx="675.7" cy="314.0" r="6.2"/><circle cx="661.8" cy="315.1" r="6.2"/><circle cx="651.4" cy="310.5" r="6.2"/><circle cx="642.1" cy="301.2" r="6.2"/><circle cx="653.7" cy="301.2" r="6.2"/><circle cx="666.4" cy="302.4" r="6.2"/><circle cx="678.0" cy="303.6" r="6.2"/><circle cx="644.5" cy="309.3" r="6.2"/><circle cx="702.7" cy="290.1" r="6.2"/><circle cx="729.3" cy="291.3" r="6.2"/><circle cx="735.1" cy="295.9" r="6.2"/><circle cx="705.0" cy="304.0" r="6.2"/><circle cx="722.4" cy="302.8" r="6.2"/><circle cx="690.0" cy="299.4" r="6.2"/><circle cx="690.0" cy="310.9" r="6.2"/><circle cx="724.7" cy="326.0" r="6.2"/></g>
<path d="M645.6 293.2L642.1 301.2M645.6 293.2L653.7 301.2M661.8 289.7L669.9 289.7M669.9 289.7L675.7 294.3M675.7 294.3L666.4 302.4M675.7 294.3L678.0 303.6M688.4 297.8L678.0 303.6M688.4 297.8L690.0 299.4M688.4 312.8L690.0 310.9M675.7 314.0L678.0 303.6M661.8 315.1L651.4 310.5M651.4 310.5L653.7 301.2M651.4 310.5L644.5 309.3M642.1 301.2L653.7 301.2M642.1 301.2L644.5 309.3M653.7 301.2L644.5 309.3M666.4 302.4L678.0 303.6M729.3 291.3L735.1 295.9M690.0 299.4L690.0 310.9" stroke="#DB8E00" stroke-width="12.4" stroke-linecap="round" fill="none"/>
<path d="M645.6 293.2L642.1 301.2L653.7 301.2ZM675.7 294.3L666.4 302.4L678.0 303.6ZM651.4 310.5L653.7 301.2L644.5 309.3ZM642.1 301.2L653.7 301.2L644.5 309.3Z" fill="#DB8E00"/>
<polygon points="633.6,307.0 642.9,308.8 648.4,321.8 660.4,327.3 650.3,331.0 631.8,330.1 626.2,340.3 624.4,333.8 629.9,325.5 631.8,316.2" fill="#C79800" stroke="#C79800" stroke-width="6" stroke-linejoin="round"/>
<g fill="#C79800"><circle cx="633.6" cy="307.0" r="6.2"/><circle cx="638.2" cy="307.9" r="6.2"/><circle cx="642.9" cy="308.8" r="6.2"/><circle cx="644.7" cy="313.1" r="6.2"/><circle cx="646.6" cy="317.5" r="6.2"/><circle cx="648.4" cy="321.8" r="6.2"/><circle cx="654.4" cy="324.6" r="6.2"/><circle cx="660.4" cy="327.3" r="6.2"/><circle cx="655.3" cy="329.1" r="6.2"/><circle cx="650.3" cy="331.0" r="6.2"/><circle cx="644.1" cy="330.7" r="6.2"/><circle cx="638.0" cy="330.4" r="6.2"/><circle cx="631.8" cy="330.1" r="6.2"/><circle cx="629.0" cy="335.2" r="6.2"/><circle cx="626.2" cy="340.3" r="6.2"/><circle cx="624.4" cy="333.8" r="6.2"/><circle cx="627.1" cy="329.6" r="6.2"/><circle cx="629.9" cy="325.5" r="6.2"/><circle cx="630.8" cy="320.9" r="6.2"/><circle cx="631.8" cy="316.2" r="6.2"/><circle cx="632.7" cy="311.6" r="6.2"/></g>
<g fill="#C79800"><circle cx="617.0" cy="320.8" r="6.2"/><circle cx="614.7" cy="325.0" r="6.2"/><circle cx="612.4" cy="329.2" r="6.2"/><circle cx="612.4" cy="334.7" r="6.2"/><circle cx="608.2" cy="336.5" r="6.2"/><circle cx="604.0" cy="338.4" r="6.2"/><circle cx="599.0" cy="339.4" r="6.2"/><circle cx="593.9" cy="340.3" r="6.2"/><circle cx="587.4" cy="338.4" r="6.2"/></g>
<g fill="#C79800"><circle cx="636.4" cy="307.0" r="6.2"/><circle cx="634.0" cy="317.4" r="6.2"/><circle cx="641.0" cy="324.4" r="6.2"/><circle cx="649.1" cy="330.1" r="6.2"/><circle cx="659.5" cy="327.8" r="6.2"/><circle cx="628.3" cy="333.6" r="6.2"/><circle cx="627.1" cy="341.7" r="6.2"/><circle cx="616.7" cy="322.1" r="6.2"/><circle cx="612.1" cy="330.1" r="6.2"/><circle cx="613.2" cy="335.9" r="6.2"/><circle cx="604.0" cy="340.5" r="6.2"/><circle cx="594.7" cy="340.5" r="6.2"/><circle cx="587.8" cy="338.2" r="6.2"/><circle cx="644.5" cy="333.6" r="6.2"/></g>
<path d="M636.4 307.0L634.0 317.4M634.0 317.4L641.0 324.4M641.0 324.4L649.1 330.1M641.0 324.4L644.5 333.6M649.1 330.1L659.5 327.8M649.1 330.1L644.5 333.6M628.3 333.6L627.1 341.7M616.7 322.1L612.1 330.1M612.1 330.1L613.2 335.9M613.2 335.9L604.0 340.5M604.0 340.5L594.7 340.5M594.7 340.5L587.8 338.2" stroke="#C79800" stroke-width="12.4" stroke-linecap="round" fill="none"/>
<path d="M641.0 324.4L649.1 330.1L644.5 333.6Z" fill="#C79800"/>
<g fill="#AEA200"><circle cx="542.7" cy="340.5" r="6.2"/><circle cx="562.4" cy="352.1" r="6.2"/><circle cx="582.0" cy="346.3" r="6.2"/><circle cx="590.1" cy="347.5" r="6.2"/><circle cx="576.2" cy="351.0" r="6.2"/><circle cx="543.0" cy="363.2" r="6.2"/><circle cx="558.6" cy="363.2" r="6.2"/><circle cx="573.6" cy="363.2" r="6.2"/><circle cx="579.4" cy="350.5" r="6.2"/><circle cx="585.1" cy="345.9" r="6.2"/><circle cx="568.0" cy="358.0" r="6.2"/></g>
<path d="M562.4 352.1L558.6 363.2M562.4 352.1L568.0 358.0M582.0 346.3L590.1 347.5M582.0 346.3L576.2 351.0M582.0 346.3L579.4 350.5M582.0 346.3L585.1 345.9M590.1 347.5L579.4 350.5M590.1 347.5L585.1 345.9M576.2 351.0L573.6 363.2M576.2 351.0L579.4 350.5M576.2 351.0L585.1 345.9M576.2 351.0L568.0 358.0M558.6 363.2L568.0 358.0M573.6 363.2L568.0 358.0M579.4 350.5L585.1 345.9" stroke="#AEA200" stroke-width="12.4" stroke-linecap="round" fill="none"/>
<path d="M562.4 352.1L558.6 363.2L568.0 358.0ZM582.0 346.3L590.1 347.5L579.4 350.5ZM582.0 346.3L590.1 347.5L585.1 345.9ZM582.0 346.3L576.2 351.0L579.4 350.5ZM582.0 346.3L576.2 351.0L585.1 345.9ZM582.0 346.3L579.4 350.5L585.1 345.9ZM590.1 347.5L579.4 350.5L585.1 345.9ZM576.2 351.0L573.6 363.2L568.0 358.0ZM576.2 351.0L579.4 350.5L585.1 345.9Z" fill="#AEA200"/>
<polygon points="668.7,327.3 679.8,327.3 679.8,337.5 666.9,340.3 661.4,334.7" fill="#8FAA00" stroke="#8FAA00" stroke-width="6" stroke-linejoin="round"/>
<g fill="#8FAA00"><circle cx="668.7" cy="327.3" r="6.2"/><circle cx="674.2" cy="327.3" r="6.2"/><circle cx="679.8" cy="327.3" r="6.2"/><circle cx="679.8" cy="332.4" r="6.2"/><circle cx="679.8" cy="337.5" r="6.2"/><circle cx="673.3" cy="338.9" r="6.2"/><circle cx="666.9" cy="340.3" r="6.2"/><circle cx="664.1" cy="337.5" r="6.2"/><circle cx="661.4" cy="334.7" r="6.2"/><circle cx="665.0" cy="331.0" r="6.2"/></g>
<g fill="#8FAA00"><circle cx="674.5" cy="326.7" r="6.2"/><circle cx="680.3" cy="331.3" r="6.2"/><circle cx="666.4" cy="338.2" r="6.2"/><circle cx="678.0" cy="338.2" r="6.2"/><circle cx="664.1" cy="330.1" r="6.2"/></g>
<path d="M674.5 326.7L680.3 331.3M674.5 326.7L678.0 338.2M674.5 326.7L664.1 330.1M680.3 331.3L678.0 338.2M666.4 338.2L678.0 338.2M666.4 338.2L664.1 330.1" stroke="#8FAA00" stroke-width="12.4" stroke-linecap="round" fill="none"/>
<path d="M674.5 326.7L680.3 331.3L678.0 338.2Z" fill="#8FAA00"/>
<g fill="#64B200"><circle cx="705.8" cy="326.9" r="6.2"/><circle cx="697.5" cy="349.1" r="6.2"/><circle cx="701.6" cy="345.0" r="6.2"/><circle cx="716.9" cy="349.8" r="6.2"/><circle cx="682.2" cy="364.4" r="6.2"/><circle cx="687.8" cy="363.0" r="6.2"/><circle cx="680.8" cy="376.9" r="6.2"/><circle cx="697.5" cy="370.0" r="6.2"/><circle cx="710.0" cy="372.0" r="6.2"/></g>
<path d="M697.5 349.1L701.6 345.0M682.2 364.4L687.8 363.0M682.2 364.4L680.8 376.9M687.8 363.0L697.5 370.0" stroke="#64B200" stroke-width="12.4" stroke-linecap="round" fill="none"/>
<g fill="#00B81B"><circle cx="823.2" cy="335.4" r="6.2"/><circle cx="815.1" cy="336.6" r="6.2"/><circle cx="804.7" cy="348.1" r="6.2"/><circle cx="814.0" cy="348.1" r="6.2"/><circle cx="802.4" cy="356.2" r="6.2"/><circle cx="800.1" cy="364.3" r="6.2"/><circle cx="790.9" cy="363.2" r="6.2"/><circle cx="789.7" cy="374.7" r="6.2"/><circle cx="780.5" cy="365.5" r="6.2"/><circle cx="772.4" cy="364.3" r="6.2"/><circle cx="763.1" cy="362.0" r="6.2"/><circle cx="771.2" cy="373.6" r="6.2"/><circle cx="765.4" cy="380.5" r="6.2"/><circle cx="760.8" cy="384.0" r="6.2"/><circle cx="773.5" cy="382.8" r="6.2"/><circle cx="764.3" cy="394.4" r="6.2"/><circle cx="773.5" cy="399.0" r="6.2"/><circle cx="764.3" cy="399.0" r="6.2"/><circle cx="815.1" cy="368.9" r="6.2"/><circle cx="819.8" cy="372.4" r="6.2"/><circle cx="842.9" cy="349.3" r="6.2"/><circle cx="844.0" cy="355.1" r="6.2"/><circle cx="838.3" cy="362.0" r="6.2"/><circle cx="865.4" cy="366.0" r="6.2"/><circle cx="742.3" cy="399.6" r="6.2"/><circle cx="785.1" cy="422.1" r="6.2"/><circle cx="832.5" cy="378.2" r="6.2"/><circle cx="831.3" cy="384.0" r="6.2"/><circle cx="839.4" cy="388.6" r="6.2"/><circle cx="844.0" cy="394.4" r="6.2"/><circle cx="851.0" cy="399.0" r="6.2"/><circle cx="831.3" cy="396.7" r="6.2"/><circle cx="837.1" cy="403.6" r="6.2"/><circle cx="849.8" cy="405.9" r="6.2"/><circle cx="839.4" cy="412.9" r="6.2"/><circle cx="826.7" cy="416.3" r="6.2"/><circle cx="841.7" cy="419.8" r="6.2"/><circle cx="831.3" cy="423.3" r="6.2"/><circle cx="783.9" cy="442.2" r="6.2"/><circle cx="778.7" cy="452.0" r="6.2"/><circle cx="830.2" cy="435.8" r="6.2"/><circle cx="816.3" cy="433.5" r="6.2"/><circle cx="815.1" cy="441.6" r="6.2"/><circle cx="811.7" cy="448.6" r="6.2"/><circle cx="820.9" cy="449.7" r="6.2"/><circle cx="829.0" cy="450.9" r="6.2"/><circle cx="827.9" cy="455.5" r="6.2"/><circle cx="730.8" cy="440.0" r="6.2"/><circle cx="783.5" cy="439.3" r="6.2"/></g>
<path d="M823.2 335.4L815.1 336.6M815.1 336.6L814.0 348.1M804.7 348.1L814.0 348.1M804.7 348.1L802.4 356.2M802.4 356.2L800.1 364.3M800.1 364.3L790.9 363.2M790.9 363.2L789.7 374.7M790.9 363.2L780.5 365.5M780.5 365.5L772.4 364.3M780.5 365.5L771.2 373.6M772.4 364.3L763.1 362.0M772.4 364.3L771.2 373.6M771.2 373.6L765.4 380.5M771.2 373.6L773.5 382.8M765.4 380.5L760.8 384.0M765.4 380.5L773.5 382.8M760.8 384.0L764.3 394.4M764.3 394.4L773.5 399.0M764.3 394.4L764.3 399.0M773.5 399.0L764.3 399.0M815.1 368.9L819.8 372.4M842.9 349.3L844.0 355.1M844.0 355.1L838.3 362.0M832.5 378.2L831.3 384.0M832.5 378.2L839.4 388.6M831.3 384.0L839.4 388.6M839.4 388.6L844.0 394.4M839.4 388.6L831.3 396.7M844.0 394.4L851.0 399.0M844.0 394.4L837.1 403.6M851.0 399.0L849.8 405.9M831.3 396.7L837.1 403.6M837.1 403.6L839.4 412.9M849.8 405.9L839.4 412.9M839.4 412.9L841.7 419.8M826.7 416.3L831.3 423.3M841.7 419.8L831.3 423.3M831.3 423.3L830.2 435.8M783.9 442.2L778.7 452.0M783.9 442.2L783.5 439.3M816.3 433.5L815.1 441.6M815.1 441.6L811.7 448.6M815.1 441.6L820.9 449.7M811.7 448.6L820.9 449.7M820.9 449.7L829.0 450.9M820.9 449.7L827.9 455.5M829.0 450.9L827.9 455.5" stroke="#00B81B" stroke-width="12.4" stroke-linecap="round" fill="none"/>
<path d="M780.5 365.5L772.4 364.3L771.2 373.6ZM771.2 373.6L765.4 380.5L773.5 382.8ZM764.3 394.4L773.5 399.0L764.3 399.0ZM832.5 378.2L831.3 384.0L839.4 388.6ZM815.1 441.6L811.7 448.6L820.9 449.7ZM820.9 449.7L829.0 450.9L827.9 455.5Z" fill="#00B81B"/>
<g fill="#00BD5C"><circle cx="758.2" cy="295.9" r="6.2"/><circle cx="764.0" cy="306.3" r="6.2"/><circle cx="749.0" cy="312.1" r="6.2"/><circle cx="758.2" cy="319.0" r="6.2"/><circle cx="740.9" cy="326.0" r="6.2"/><circle cx="759.4" cy="326.0" r="6.2"/><circle cx="805.6" cy="327.1" r="6.2"/><circle cx="790.6" cy="292.4" r="6.2"/><circle cx="799.8" cy="294.7" r="6.2"/><circle cx="816.0" cy="314.4" r="6.2"/><circle cx="814.9" cy="321.3" r="6.2"/><circle cx="805.9" cy="329.6" r="6.2"/><circle cx="805.9" cy="336.6" r="6.2"/><circle cx="763.1" cy="333.1" r="6.2"/><circle cx="758.5" cy="337.7" r="6.2"/><circle cx="758.5" cy="345.8" r="6.2"/><circle cx="745.8" cy="348.1" r="6.2"/><circle cx="743.5" cy="328.5" r="6.2"/><circle cx="758.5" cy="355.1" r="6.2"/><circle cx="738.1" cy="325.7" r="6.2"/><circle cx="734.4" cy="336.8" r="6.2"/><circle cx="732.5" cy="344.2" r="6.2"/><circle cx="743.6" cy="349.7" r="6.2"/><circle cx="747.3" cy="343.2" r="6.2"/><circle cx="715.5" cy="368.6" r="6.2"/><circle cx="730.1" cy="367.9" r="6.2"/><circle cx="786.0" cy="294.0" r="6.2"/></g>
<path d="M758.2 295.9L764.0 306.3M749.0 312.1L758.2 319.0M758.2 319.0L759.4 326.0M740.9 326.0L743.5 328.5M740.9 326.0L738.1 325.7M759.4 326.0L763.1 333.1M759.4 326.0L758.5 337.7M805.6 327.1L814.9 321.3M805.6 327.1L805.9 329.6M805.6 327.1L805.9 336.6M790.6 292.4L799.8 294.7M790.6 292.4L786.0 294.0M816.0 314.4L814.9 321.3M814.9 321.3L805.9 329.6M805.9 329.6L805.9 336.6M763.1 333.1L758.5 337.7M758.5 337.7L758.5 345.8M758.5 337.7L747.3 343.2M758.5 345.8L758.5 355.1M758.5 345.8L747.3 343.2M745.8 348.1L743.6 349.7M745.8 348.1L747.3 343.2M743.5 328.5L738.1 325.7M743.5 328.5L734.4 336.8M738.1 325.7L734.4 336.8M734.4 336.8L732.5 344.2M732.5 344.2L743.6 349.7M743.6 349.7L747.3 343.2" stroke="#00BD5C" stroke-width="12.4" stroke-linecap="round" fill="none"/>
<path d="M740.9 326.0L743.5 328.5L738.1 325.7ZM759.4 326.0L763.1 333.1L758.5 337.7ZM805.6 327.1L814.9 321.3L805.9 329.6ZM805.6 327.1L805.9 329.6L805.9 336.6ZM758.5 337.7L758.5 345.8L747.3 343.2ZM745.8 348.1L743.6 349.7L747.3 343.2ZM743.5 328.5L738.1 325.7L734.4 336.8Z" fill="#00BD5C"/>
<g fill="#00C085"><circle cx="844.9" cy="285.5" r="6.2"/><circle cx="862.7" cy="294.3" r="6.2"/><circle cx="877.7" cy="301.2" r="6.2"/><circle cx="887.0" cy="296.6" r="6.2"/><circle cx="896.2" cy="301.2" r="6.2"/><circle cx="902.0" cy="303.5" r="6.2"/><circle cx="889.3" cy="308.2" r="6.2"/><circle cx="909.0" cy="312.8" r="6.2"/><circle cx="919.4" cy="312.8" r="6.2"/><circle cx="925.1" cy="315.1" r="6.2"/></g>
<path d="M877.7 301.2L887.0 296.6M887.0 296.6L896.2 301.2M887.0 296.6L889.3 308.2M896.2 301.2L902.0 303.5M896.2 301.2L889.3 308.2M902.0 303.5L909.0 312.8M909.0 312.8L919.4 312.8M919.4 312.8L925.1 315.1" stroke="#00C085" stroke-width="12.4" stroke-linecap="round" fill="none"/>
<path d="M887.0 296.6L896.2 301.2L889.3 308.2Z" fill="#00C085"/>
<g fill="#00C1A7"><circle cx="795.2" cy="285.5" r="6.2"/><circle cx="805.6" cy="289.0" r="6.2"/><circle cx="816.0" cy="289.0" r="6.2"/><circle cx="810.2" cy="284.3" r="6.2"/></g>
<path d="M795.2 285.5L805.6 289.0M805.6 289.0L816.0 289.0M805.6 289.0L810.2 284.3M816.0 289.0L810.2 284.3" stroke="#00C1A7" stroke-width="12.4" stroke-linecap="round" fill="none"/>
<path d="M805.6 289.0L816.0 289.0L810.2 284.3Z" fill="#00C1A7"/>
<g fill="#00BFC4"><circle cx="827.6" cy="315.5" r="6.2"/><circle cx="821.8" cy="322.5" r="6.2"/><circle cx="848.4" cy="327.1" r="6.2"/><circle cx="820.9" cy="329.6" r="6.2"/><circle cx="852.1" cy="342.3" r="6.2"/><circle cx="849.8" cy="328.5" r="6.2"/><circle cx="866.0" cy="334.2" r="6.2"/><circle cx="889.1" cy="336.6" r="6.2"/><circle cx="896.1" cy="337.7" r="6.2"/><circle cx="867.3" cy="320.9" r="6.2"/><circle cx="853.5" cy="325.5" r="6.2"/><circle cx="866.2" cy="333.6" r="6.2"/><circle cx="853.5" cy="341.7" r="6.2"/><circle cx="892.8" cy="318.6" r="6.2"/><circle cx="897.4" cy="326.6" r="6.2"/><circle cx="888.2" cy="337.1" r="6.2"/><circle cx="899.7" cy="338.2" r="6.2"/><circle cx="939.0" cy="332.4" r="6.2"/><circle cx="948.3" cy="337.1" r="6.2"/><circle cx="959.8" cy="342.8" r="6.2"/></g>
<path d="M827.6 315.5L821.8 322.5M821.8 322.5L820.9 329.6M848.4 327.1L849.8 328.5M848.4 327.1L853.5 325.5M852.1 342.3L853.5 341.7M849.8 328.5L853.5 325.5M866.0 334.2L866.2 333.6M889.1 336.6L896.1 337.7M889.1 336.6L888.2 337.1M889.1 336.6L899.7 338.2M896.1 337.7L897.4 326.6M896.1 337.7L888.2 337.1M896.1 337.7L899.7 338.2M892.8 318.6L897.4 326.6M897.4 326.6L899.7 338.2M888.2 337.1L899.7 338.2M939.0 332.4L948.3 337.1" stroke="#00BFC4" stroke-width="12.4" stroke-linecap="round" fill="none"/>
<path d="M848.4 327.1L849.8 328.5L853.5 325.5ZM889.1 336.6L896.1 337.7L888.2 337.1ZM889.1 336.6L896.1 337.7L899.7 338.2ZM889.1 336.6L888.2 337.1L899.7 338.2ZM896.1 337.7L897.4 326.6L899.7 338.2ZM896.1 337.7L888.2 337.1L899.7 338.2Z" fill="#00BFC4"/>
<g fill="#00BADE"><circle cx="870.6" cy="410.5" r="6.2"/><circle cx="882.2" cy="403.6" r="6.2"/></g>
<g fill="#00B2F3"><circle cx="809.4" cy="459.0" r="6.2"/><circle cx="816.3" cy="455.5" r="6.2"/><circle cx="817.5" cy="474.0" r="6.2"/><circle cx="830.2" cy="468.2" r="6.2"/><circle cx="836.5" cy="456.6" r="6.2"/><circle cx="829.3" cy="467.7" r="6.2"/><circle cx="817.7" cy="473.5" r="6.2"/><circle cx="823.0" cy="462.0" r="6.2"/></g>
<path d="M809.4 459.0L816.3 455.5M816.3 455.5L823.0 462.0M817.5 474.0L817.7 473.5M830.2 468.2L829.3 467.7M830.2 468.2L823.0 462.0M829.3 467.7L823.0 462.0" stroke="#00B2F3" stroke-width="12.4" stroke-linecap="round" fill="none"/>
<path d="M830.2 468.2L829.3 467.7L823.0 462.0Z" fill="#00B2F3"/>
<g fill="#00A6FF"><circle cx="836.0" cy="478.6" r="6.2"/><circle cx="842.9" cy="478.6" r="6.2"/><circle cx="837.1" cy="489.0" r="6.2"/><circle cx="867.2" cy="462.4" r="6.2"/><circle cx="873.8" cy="489.7" r="6.2"/><circle cx="858.2" cy="497.8" r="6.2"/><circle cx="864.0" cy="505.9" r="6.2"/><circle cx="870.9" cy="497.8" r="6.2"/><circle cx="877.3" cy="505.3" r="6.2"/><circle cx="897.5" cy="499.5" r="6.2"/><circle cx="836.2" cy="490.9" r="6.2"/></g>
<path d="M836.0 478.6L842.9 478.6M836.0 478.6L837.1 489.0M836.0 478.6L836.2 490.9M842.9 478.6L837.1 489.0M837.1 489.0L836.2 490.9M873.8 489.7L870.9 497.8M858.2 497.8L864.0 505.9M864.0 505.9L870.9 497.8M870.9 497.8L877.3 505.3" stroke="#00A6FF" stroke-width="12.4" stroke-linecap="round" fill="none"/>
<path d="M836.0 478.6L842.9 478.6L837.1 489.0ZM836.0 478.6L837.1 489.0L836.2 490.9Z" fill="#00A6FF"/>
<g fill="#7C96FF"><circle cx="902.4" cy="563.8" r="6.2"/></g>
<g fill="#B385FF"><circle cx="950.6" cy="450.5" r="6.2"/><circle cx="934.4" cy="460.9" r="6.2"/><circle cx="957.5" cy="473.6" r="6.2"/></g>
<polygon points="867.3,447.0 885.0,450.0 903.0,453.0 912.0,458.0 916.0,465.0 907.8,463.2 896.2,460.9 880.1,459.8 867.0,455.0" fill="#D874FD" stroke="#D874FD" stroke-width="6" stroke-linejoin="round"/>
<g fill="#D874FD"><circle cx="867.3" cy="447.0" r="6.2"/><circle cx="873.2" cy="448.0" r="6.2"/><circle cx="879.1" cy="449.0" r="6.2"/><circle cx="885.0" cy="450.0" r="6.2"/><circle cx="891.0" cy="451.0" r="6.2"/><circle cx="897.0" cy="452.0" r="6.2"/><circle cx="903.0" cy="453.0" r="6.2"/><circle cx="907.5" cy="455.5" r="6.2"/><circle cx="912.0" cy="458.0" r="6.2"/><circle cx="914.0" cy="461.5" r="6.2"/><circle cx="916.0" cy="465.0" r="6.2"/><circle cx="911.9" cy="464.1" r="6.2"/><circle cx="907.8" cy="463.2" r="6.2"/><circle cx="902.0" cy="462.0" r="6.2"/><circle cx="896.2" cy="460.9" r="6.2"/><circle cx="890.8" cy="460.5" r="6.2"/><circle cx="885.5" cy="460.2" r="6.2"/><circle cx="880.1" cy="459.8" r="6.2"/><circle cx="873.5" cy="457.4" r="6.2"/><circle cx="867.0" cy="455.0" r="6.2"/><circle cx="867.1" cy="451.0" r="6.2"/></g>
<polygon points="930.9,432.0 940.2,433.2 935.5,449.4 927.5,460.9 928.6,451.7 930.9,443.6" fill="#D874FD" stroke="#D874FD" stroke-width="6" stroke-linejoin="round"/>
<g fill="#D874FD"><circle cx="930.9" cy="432.0" r="6.2"/><circle cx="935.5" cy="432.6" r="6.2"/><circle cx="940.2" cy="433.2" r="6.2"/><circle cx="938.6" cy="438.6" r="6.2"/><circle cx="937.1" cy="444.0" r="6.2"/><circle cx="935.5" cy="449.4" r="6.2"/><circle cx="932.8" cy="453.2" r="6.2"/><circle cx="930.2" cy="457.1" r="6.2"/><circle cx="927.5" cy="460.9" r="6.2"/><circle cx="928.0" cy="456.3" r="6.2"/><circle cx="928.6" cy="451.7" r="6.2"/><circle cx="929.8" cy="447.6" r="6.2"/><circle cx="930.9" cy="443.6" r="6.2"/><circle cx="930.9" cy="437.8" r="6.2"/></g>
<g fill="#D874FD"><circle cx="969.1" cy="385.8" r="6.2"/><circle cx="965.6" cy="389.2" r="6.2"/><circle cx="961.5" cy="392.7" r="6.2"/><circle cx="957.5" cy="396.2" r="6.2"/><circle cx="954.6" cy="399.6" r="6.2"/><circle cx="951.7" cy="403.1" r="6.2"/><circle cx="950.5" cy="407.8" r="6.2"/><circle cx="949.4" cy="412.4" r="6.2"/></g>
<g fill="#D874FD"><circle cx="867.3" cy="447.0" r="6.2"/><circle cx="875.4" cy="449.4" r="6.2"/><circle cx="884.7" cy="454.0" r="6.2"/><circle cx="893.9" cy="456.3" r="6.2"/><circle cx="903.2" cy="455.1" r="6.2"/><circle cx="910.1" cy="459.8" r="6.2"/><circle cx="915.9" cy="465.5" r="6.2"/><circle cx="907.8" cy="463.2" r="6.2"/><circle cx="880.1" cy="459.8" r="6.2"/><circle cx="896.2" cy="460.9" r="6.2"/><circle cx="911.3" cy="445.9" r="6.2"/><circle cx="930.9" cy="432.0" r="6.2"/><circle cx="940.2" cy="433.2" r="6.2"/><circle cx="930.9" cy="443.6" r="6.2"/><circle cx="935.5" cy="449.4" r="6.2"/><circle cx="928.6" cy="451.7" r="6.2"/><circle cx="927.5" cy="460.9" r="6.2"/><circle cx="965.6" cy="389.2" r="6.2"/><circle cx="969.1" cy="385.8" r="6.2"/><circle cx="957.5" cy="396.2" r="6.2"/><circle cx="951.7" cy="403.1" r="6.2"/><circle cx="949.4" cy="412.4" r="6.2"/><circle cx="954.0" cy="411.2" r="6.2"/><circle cx="873.0" cy="452.0" r="6.2"/><circle cx="955.4" cy="393.5" r="6.2"/><circle cx="939.2" cy="433.9" r="6.2"/><circle cx="934.6" cy="447.8" r="6.2"/><circle cx="888.0" cy="452.0" r="6.2"/><circle cx="900.0" cy="460.0" r="6.2"/></g>
<path d="M867.3 447.0L875.4 449.4M867.3 447.0L873.0 452.0M875.4 449.4L884.7 454.0M875.4 449.4L880.1 459.8M875.4 449.4L873.0 452.0M884.7 454.0L893.9 456.3M884.7 454.0L880.1 459.8M884.7 454.0L873.0 452.0M884.7 454.0L888.0 452.0M893.9 456.3L903.2 455.1M893.9 456.3L896.2 460.9M893.9 456.3L888.0 452.0M893.9 456.3L900.0 460.0M903.2 455.1L910.1 459.8M903.2 455.1L907.8 463.2M903.2 455.1L896.2 460.9M903.2 455.1L911.3 445.9M903.2 455.1L900.0 460.0M910.1 459.8L915.9 465.5M910.1 459.8L907.8 463.2M910.1 459.8L900.0 460.0M915.9 465.5L907.8 463.2M915.9 465.5L927.5 460.9M907.8 463.2L896.2 460.9M907.8 463.2L900.0 460.0M880.1 459.8L873.0 452.0M880.1 459.8L888.0 452.0M896.2 460.9L888.0 452.0M896.2 460.9L900.0 460.0M930.9 432.0L940.2 433.2M930.9 432.0L930.9 443.6M930.9 432.0L939.2 433.9M940.2 433.2L939.2 433.9M930.9 443.6L935.5 449.4M930.9 443.6L928.6 451.7M930.9 443.6L934.6 447.8M935.5 449.4L928.6 451.7M935.5 449.4L934.6 447.8M928.6 451.7L927.5 460.9M928.6 451.7L934.6 447.8M965.6 389.2L969.1 385.8M965.6 389.2L957.5 396.2M965.6 389.2L955.4 393.5M957.5 396.2L951.7 403.1M957.5 396.2L955.4 393.5M951.7 403.1L949.4 412.4M951.7 403.1L954.0 411.2M951.7 403.1L955.4 393.5M949.4 412.4L954.0 411.2" stroke="#D874FD" stroke-width="12.4" stroke-linecap="round" fill="none"/>
<path d="M867.3 447.0L875.4 449.4L873.0 452.0ZM875.4 449.4L884.7 454.0L880.1 459.8ZM875.4 449.4L884.7 454.0L873.0 452.0ZM875.4 449.4L880.1 459.8L873.0 452.0ZM884.7 454.0L893.9 456.3L888.0 452.0ZM884.7 454.0L880.1 459.8L873.0 452.0ZM884.7 454.0L880.1 459.8L888.0 452.0ZM893.9 456.3L903.2 455.1L896.2 460.9ZM893.9 456.3L903.2 455.1L900.0 460.0ZM893.9 456.3L896.2 460.9L888.0 452.0ZM893.9 456.3L896.2 460.9L900.0 460.0ZM903.2 455.1L910.1 459.8L907.8 463.2ZM903.2 455.1L910.1 459.8L900.0 460.0ZM903.2 455.1L907.8 463.2L896.2 460.9ZM903.2 455.1L907.8 463.2L900.0 460.0ZM903.2 455.1L896.2 460.9L900.0 460.0ZM910.1 459.8L915.9 465.5L907.8 463.2ZM910.1 459.8L907.8 463.2L900.0 460.0ZM907.8 463.2L896.2 460.9L900.0 460.0ZM930.9 432.0L940.2 433.2L939.2 433.9ZM930.9 443.6L935.5 449.4L928.6 451.7ZM930.9 443.6L935.5 449.4L934.6 447.8ZM930.9 443.6L928.6 451.7L934.6 447.8ZM935.5 449.4L928.6 451.7L934.6 447.8ZM965.6 389.2L957.5 396.2L955.4 393.5ZM957.5 396.2L951.7 403.1L955.4 393.5ZM951.7 403.1L949.4 412.4L954.0 411.2Z" fill="#D874FD"/>
<g fill="#EF67EB"><circle cx="978.3" cy="383.5" r="6.2"/><circle cx="972.5" cy="393.9" r="6.2"/><circle cx="963.3" cy="408.9" r="6.2"/><circle cx="951.7" cy="439.0" r="6.2"/><circle cx="957.5" cy="442.4" r="6.2"/><circle cx="971.4" cy="450.5" r="6.2"/><circle cx="987.6" cy="420.5" r="6.2"/><circle cx="987.6" cy="440.1" r="6.2"/><circle cx="1002.8" cy="405.0" r="6.2"/><circle cx="997.1" cy="412.0" r="6.2"/><circle cx="989.0" cy="421.2" r="6.2"/><circle cx="990.1" cy="440.9" r="6.2"/><circle cx="953.1" cy="437.4" r="6.2"/><circle cx="956.6" cy="443.2" r="6.2"/><circle cx="1014.4" cy="414.3" r="6.2"/><circle cx="1022.5" cy="425.8" r="6.2"/><circle cx="969.1" cy="503.2" r="6.2"/><circle cx="961.2" cy="509.8" r="6.2"/><circle cx="974.9" cy="353.2" r="6.2"/><circle cx="983.0" cy="357.9" r="6.2"/><circle cx="988.7" cy="364.8" r="6.2"/><circle cx="994.1" cy="376.2" r="6.2"/><circle cx="1002.4" cy="378.2" r="6.2"/><circle cx="998.0" cy="371.0" r="6.2"/></g>
<path d="M978.3 383.5L972.5 393.9M951.7 439.0L957.5 442.4M951.7 439.0L953.1 437.4M951.7 439.0L956.6 443.2M957.5 442.4L953.1 437.4M957.5 442.4L956.6 443.2M987.6 420.5L989.0 421.2M987.6 440.1L990.1 440.9M1002.8 405.0L997.1 412.0M997.1 412.0L989.0 421.2M953.1 437.4L956.6 443.2M969.1 503.2L961.2 509.8M974.9 353.2L983.0 357.9M983.0 357.9L988.7 364.8M988.7 364.8L998.0 371.0M994.1 376.2L1002.4 378.2M994.1 376.2L998.0 371.0M1002.4 378.2L998.0 371.0" stroke="#EF67EB" stroke-width="12.4" stroke-linecap="round" fill="none"/>
<path d="M951.7 439.0L957.5 442.4L953.1 437.4ZM951.7 439.0L957.5 442.4L956.6 443.2ZM951.7 439.0L953.1 437.4L956.6 443.2ZM957.5 442.4L953.1 437.4L956.6 443.2ZM994.1 376.2L1002.4 378.2L998.0 371.0Z" fill="#EF67EB"/>
<polygon points="1010.9,442.0 1022.5,440.9 1028.3,443.2 1028.3,467.5 1022.5,460.5 1005.1,464.0 1001.7,451.3" fill="#FD61D3" stroke="#FD61D3" stroke-width="6" stroke-linejoin="round"/>
<g fill="#FD61D3"><circle cx="1010.9" cy="442.0" r="6.2"/><circle cx="1016.7" cy="441.4" r="6.2"/><circle cx="1022.5" cy="440.9" r="6.2"/><circle cx="1028.3" cy="443.2" r="6.2"/><circle cx="1028.3" cy="449.3" r="6.2"/><circle cx="1028.3" cy="455.4" r="6.2"/><circle cx="1028.3" cy="461.4" r="6.2"/><circle cx="1028.3" cy="467.5" r="6.2"/><circle cx="1025.4" cy="464.0" r="6.2"/><circle cx="1022.5" cy="460.5" r="6.2"/><circle cx="1016.7" cy="461.7" r="6.2"/><circle cx="1010.9" cy="462.8" r="6.2"/><circle cx="1005.1" cy="464.0" r="6.2"/><circle cx="1003.4" cy="457.6" r="6.2"/><circle cx="1001.7" cy="451.3" r="6.2"/><circle cx="1006.3" cy="446.6" r="6.2"/></g>
<g fill="#FD61D3"><circle cx="1010.9" cy="442.0" r="6.2"/><circle cx="1022.5" cy="440.9" r="6.2"/><circle cx="1028.3" cy="443.2" r="6.2"/><circle cx="1001.7" cy="451.3" r="6.2"/><circle cx="1005.1" cy="464.0" r="6.2"/><circle cx="1017.9" cy="454.7" r="6.2"/><circle cx="1022.5" cy="460.5" r="6.2"/><circle cx="1028.3" cy="467.5" r="6.2"/><circle cx="1013.2" cy="444.3" r="6.2"/><circle cx="1010.0" cy="455.0" r="6.2"/><circle cx="1017.0" cy="448.0" r="6.2"/></g>
<path d="M1010.9 442.0L1022.5 440.9M1010.9 442.0L1013.2 444.3M1010.9 442.0L1017.0 448.0M1022.5 440.9L1028.3 443.2M1022.5 440.9L1013.2 444.3M1022.5 440.9L1017.0 448.0M1028.3 443.2L1017.0 448.0M1001.7 451.3L1010.0 455.0M1005.1 464.0L1010.0 455.0M1017.9 454.7L1022.5 460.5M1017.9 454.7L1013.2 444.3M1017.9 454.7L1010.0 455.0M1017.9 454.7L1017.0 448.0M1022.5 460.5L1028.3 467.5M1013.2 444.3L1010.0 455.0M1013.2 444.3L1017.0 448.0M1010.0 455.0L1017.0 448.0" stroke="#FD61D3" stroke-width="12.4" stroke-linecap="round" fill="none"/>
<path d="M1010.9 442.0L1022.5 440.9L1013.2 444.3ZM1010.9 442.0L1022.5 440.9L1017.0 448.0ZM1010.9 442.0L1013.2 444.3L1017.0 448.0ZM1022.5 440.9L1028.3 443.2L1017.0 448.0ZM1022.5 440.9L1013.2 444.3L1017.0 448.0ZM1017.9 454.7L1013.2 444.3L1010.0 455.0ZM1017.9 454.7L1013.2 444.3L1017.0 448.0ZM1017.9 454.7L1010.0 455.0L1017.0 448.0ZM1013.2 444.3L1010.0 455.0L1017.0 448.0Z" fill="#FD61D3"/>
<g fill="#FF63B6"><circle cx="1026.0" cy="432.8" r="6.2"/><circle cx="1030.0" cy="420.0" r="6.2"/><circle cx="1032.0" cy="438.0" r="6.2"/></g>
<path d="M1026.0 432.8L1032.0 438.0" stroke="#FF63B6" stroke-width="12.4" stroke-linecap="round" fill="none"/>
<g fill="#FF6B94"><circle cx="1019.5" cy="408.9" r="6.2"/><circle cx="1024.9" cy="410.0" r="6.2"/><circle cx="1030.3" cy="411.0" r="6.2"/><circle cx="1035.7" cy="412.1" r="6.2"/><circle cx="1037.8" cy="417.0" r="6.2"/><circle cx="1040.0" cy="421.8" r="6.2"/><circle cx="1039.5" cy="428.3" r="6.2"/><circle cx="1038.9" cy="434.8" r="6.2"/><circle cx="1037.3" cy="440.5" r="6.2"/><circle cx="1035.7" cy="446.1" r="6.2"/></g>
<g fill="#FF6B94"><circle cx="977.2" cy="337.1" r="6.2"/><circle cx="985.3" cy="341.7" r="6.2"/><circle cx="992.2" cy="348.6" r="6.2"/><circle cx="1001.4" cy="356.7" r="6.2"/><circle cx="1006.6" cy="361.6" r="6.2"/><circle cx="1002.4" cy="369.9" r="6.2"/><circle cx="1029.4" cy="409.7" r="6.2"/><circle cx="1038.7" cy="415.4" r="6.2"/><circle cx="1039.8" cy="427.0" r="6.2"/><circle cx="1038.7" cy="439.7" r="6.2"/><circle cx="1034.0" cy="445.5" r="6.2"/><circle cx="1020.2" cy="409.7" r="6.2"/></g>
<path d="M977.2 337.1L985.3 341.7M985.3 341.7L992.2 348.6M992.2 348.6L1001.4 356.7M1001.4 356.7L1006.6 361.6M1006.6 361.6L1002.4 369.9M1029.4 409.7L1038.7 415.4M1029.4 409.7L1020.2 409.7M1038.7 415.4L1039.8 427.0M1038.7 439.7L1034.0 445.5" stroke="#FF6B94" stroke-width="12.4" stroke-linecap="round" fill="none"/>
</g>
<rect x="141.2" y="112.2" width="959.5" height="571.0999999999999" fill="none" stroke="#333" stroke-width="1.4"/>
<line x1="144.2" y1="683.3" x2="144.2" y2="690.8" stroke="#333" stroke-width="2.2"/>
<line x1="328.3" y1="683.3" x2="328.3" y2="690.8" stroke="#333" stroke-width="2.2"/>
<line x1="512.4" y1="683.3" x2="512.4" y2="690.8" stroke="#333" stroke-width="2.2"/>
<line x1="696.4" y1="683.3" x2="696.4" y2="690.8" stroke="#333" stroke-width="2.2"/>
<line x1="880.5" y1="683.3" x2="880.5" y2="690.8" stroke="#333" stroke-width="2.2"/>
<line x1="1064.6" y1="683.3" x2="1064.6" y2="690.8" stroke="#333" stroke-width="2.2"/>
<line x1="133.7" y1="135.8" x2="141.2" y2="135.8" stroke="#333" stroke-width="2.2"/>
<line x1="133.7" y1="204.2" x2="141.2" y2="204.2" stroke="#333" stroke-width="2.2"/>
<line x1="133.7" y1="272.5" x2="141.2" y2="272.5" stroke="#333" stroke-width="2.2"/>
<line x1="133.7" y1="340.9" x2="141.2" y2="340.9" stroke="#333" stroke-width="2.2"/>
<line x1="133.7" y1="409.2" x2="141.2" y2="409.2" stroke="#333" stroke-width="2.2"/>
<line x1="133.7" y1="477.6" x2="141.2" y2="477.6" stroke="#333" stroke-width="2.2"/>
<line x1="133.7" y1="545.9" x2="141.2" y2="545.9" stroke="#333" stroke-width="2.2"/>
<line x1="133.7" y1="614.2" x2="141.2" y2="614.2" stroke="#333" stroke-width="2.2"/>
<line x1="133.7" y1="682.6" x2="141.2" y2="682.6" stroke="#333" stroke-width="2.2"/>
<text x="144.2" y="713.6" font-family="Liberation Sans, sans-serif" font-size="23" fill="#4D4D4D" text-anchor="middle" textLength="59" lengthAdjust="spacingAndGlyphs">70°W</text>
<text x="328.3" y="713.6" font-family="Liberation Sans, sans-serif" font-size="23" fill="#4D4D4D" text-anchor="middle" textLength="59" lengthAdjust="spacingAndGlyphs">68°W</text>
<text x="512.4" y="713.6" font-family="Liberation Sans, sans-serif" font-size="23" fill="#4D4D4D" text-anchor="middle" textLength="59" lengthAdjust="spacingAndGlyphs">66°W</text>
<text x="696.4" y="713.6" font-family="Liberation Sans, sans-serif" font-size="23" fill="#4D4D4D" text-anchor="middle" textLength="59" lengthAdjust="spacingAndGlyphs">64°W</text>
<text x="880.5" y="713.6" font-family="Liberation Sans, sans-serif" font-size="23" fill="#4D4D4D" text-anchor="middle" textLength="59" lengthAdjust="spacingAndGlyphs">62°W</text>
<text x="1064.6" y="713.6" font-family="Liberation Sans, sans-serif" font-size="23" fill="#4D4D4D" text-anchor="middle" textLength="59" lengthAdjust="spacingAndGlyphs">60°W</text>
<text x="125.1" y="144.3" font-family="Liberation Sans, sans-serif" font-size="23" fill="#4D4D4D" text-anchor="end" textLength="75" lengthAdjust="spacingAndGlyphs">49.5°N</text>
<text x="125.1" y="212.7" font-family="Liberation Sans, sans-serif" font-size="23" fill="#4D4D4D" text-anchor="end" textLength="75" lengthAdjust="spacingAndGlyphs">49.0°N</text>
<text x="125.1" y="281.0" font-family="Liberation Sans, sans-serif" font-size="23" fill="#4D4D4D" text-anchor="end" textLength="75" lengthAdjust="spacingAndGlyphs">48.5°N</text>
<text x="125.1" y="349.4" font-family="Liberation Sans, sans-serif" font-size="23" fill="#4D4D4D" text-anchor="end" textLength="75" lengthAdjust="spacingAndGlyphs">48.0°N</text>
<text x="125.1" y="417.7" font-family="Liberation Sans, sans-serif" font-size="23" fill="#4D4D4D" text-anchor="end" textLength="75" lengthAdjust="spacingAndGlyphs">47.5°N</text>
<text x="125.1" y="486.1" font-family="Liberation Sans, sans-serif" font-size="23" fill="#4D4D4D" text-anchor="end" textLength="75" lengthAdjust="spacingAndGlyphs">47.0°N</text>
<text x="125.1" y="554.4" font-family="Liberation Sans, sans-serif" font-size="23" fill="#4D4D4D" text-anchor="end" textLength="75" lengthAdjust="spacingAndGlyphs">46.5°N</text>
<text x="125.1" y="622.8" font-family="Liberation Sans, sans-serif" font-size="23" fill="#4D4D4D" text-anchor="end" textLength="75" lengthAdjust="spacingAndGlyphs">46.0°N</text>
<text x="125.1" y="691.1" font-family="Liberation Sans, sans-serif" font-size="23" fill="#4D4D4D" text-anchor="end" textLength="75" lengthAdjust="spacingAndGlyphs">45.5°N</text>
<text x="621.4" y="747.9" font-family="Liberation Sans, sans-serif" font-size="30" fill="#000" text-anchor="middle" textLength="134" lengthAdjust="spacingAndGlyphs">longitude</text>
<text transform="translate(36.4,397.2) rotate(-90)" x="0" y="0" font-family="Liberation Sans, sans-serif" font-size="30" fill="#000" text-anchor="middle" textLength="109" lengthAdjust="spacingAndGlyphs">latitude</text>
<text x="1145.8" y="123.8" font-family="Liberation Sans, sans-serif" font-size="30" fill="#000" textLength="222" lengthAdjust="spacingAndGlyphs">factor(stratum)</text>
<circle cx="1167.9" cy="164.8" r="6.2" fill="#F8766D"/>
<text x="1206.4" y="173.9" font-family="Liberation Sans, sans-serif" font-size="23.5" fill="#000" textLength="43" lengthAdjust="spacingAndGlyphs">415</text>
<circle cx="1167.9" cy="210.9" r="6.2" fill="#EC8239"/>
<text x="1206.4" y="220.0" font-family="Liberation Sans, sans-serif" font-size="23.5" fill="#000" textLength="43" lengthAdjust="spacingAndGlyphs">416</text>
<circle cx="1167.9" cy="257.0" r="6.2" fill="#DB8E00"/>
<text x="1206.4" y="266.1" font-family="Liberation Sans, sans-serif" font-size="23.5" fill="#000" textLength="43" lengthAdjust="spacingAndGlyphs">417</text>
<circle cx="1167.9" cy="303.1" r="6.2" fill="#C79800"/>
<text x="1206.4" y="312.2" font-family="Liberation Sans, sans-serif" font-size="23.5" fill="#000" textLength="43" lengthAdjust="spacingAndGlyphs">418</text>
<circle cx="1167.9" cy="349.2" r="6.2" fill="#AEA200"/>
<text x="1206.4" y="358.3" font-family="Liberation Sans, sans-serif" font-size="23.5" fill="#000" textLength="43" lengthAdjust="spacingAndGlyphs">419</text>
<circle cx="1167.9" cy="395.3" r="6.2" fill="#8FAA00"/>
<text x="1206.4" y="404.4" font-family="Liberation Sans, sans-serif" font-size="23.5" fill="#000" textLength="43" lengthAdjust="spacingAndGlyphs">420</text>
<circle cx="1167.9" cy="441.4" r="6.2" fill="#64B200"/>
<text x="1206.4" y="450.5" font-family="Liberation Sans, sans-serif" font-size="23.5" fill="#000" textLength="43" lengthAdjust="spacingAndGlyphs">422</text>
<circle cx="1167.9" cy="487.5" r="6.2" fill="#00B81B"/>
<text x="1206.4" y="496.6" font-family="Liberation Sans, sans-serif" font-size="23.5" fill="#000" textLength="43" lengthAdjust="spacingAndGlyphs">423</text>
<circle cx="1167.9" cy="533.6" r="6.2" fill="#00BD5C"/>
<text x="1206.4" y="542.7" font-family="Liberation Sans, sans-serif" font-size="23.5" fill="#000" textLength="43" lengthAdjust="spacingAndGlyphs">424</text>
<circle cx="1167.9" cy="579.7" r="6.2" fill="#00C085"/>
<text x="1206.4" y="588.8" font-family="Liberation Sans, sans-serif" font-size="23.5" fill="#000" textLength="43" lengthAdjust="spacingAndGlyphs">425</text>
<circle cx="1167.9" cy="625.8" r="6.2" fill="#00C1A7"/>
<text x="1206.4" y="634.9" font-family="Liberation Sans, sans-serif" font-size="23.5" fill="#000" textLength="43" lengthAdjust="spacingAndGlyphs">426</text>
<circle cx="1167.9" cy="671.9" r="6.2" fill="#00BFC4"/>
<text x="1206.4" y="681.0" font-family="Liberation Sans, sans-serif" font-size="23.5" fill="#000" textLength="43" lengthAdjust="spacingAndGlyphs">427</text>
<circle cx="1288.1" cy="164.8" r="6.2" fill="#00BADE"/>
<text x="1326.6" y="173.9" font-family="Liberation Sans, sans-serif" font-size="23.5" fill="#000" textLength="43" lengthAdjust="spacingAndGlyphs">428</text>
<circle cx="1288.1" cy="210.9" r="6.2" fill="#00B2F3"/>
<text x="1326.6" y="220.0" font-family="Liberation Sans, sans-serif" font-size="23.5" fill="#000" textLength="43" lengthAdjust="spacingAndGlyphs">429</text>
<circle cx="1288.1" cy="257.0" r="6.2" fill="#00A6FF"/>
<text x="1326.6" y="266.1" font-family="Liberation Sans, sans-serif" font-size="23.5" fill="#000" textLength="43" lengthAdjust="spacingAndGlyphs">431</text>
<circle cx="1288.1" cy="303.1" r="6.2" fill="#7C96FF"/>
<text x="1326.6" y="312.2" font-family="Liberation Sans, sans-serif" font-size="23.5" fill="#000" textLength="43" lengthAdjust="spacingAndGlyphs">433</text>
<circle cx="1288.1" cy="349.2" r="6.2" fill="#B385FF"/>
<text x="1326.6" y="358.3" font-family="Liberation Sans, sans-serif" font-size="23.5" fill="#000" textLength="43" lengthAdjust="spacingAndGlyphs">434</text>
<circle cx="1288.1" cy="395.3" r="6.2" fill="#D874FD"/>
<text x="1326.6" y="404.4" font-family="Liberation Sans, sans-serif" font-size="23.5" fill="#000" textLength="43" lengthAdjust="spacingAndGlyphs">435</text>
<circle cx="1288.1" cy="441.4" r="6.2" fill="#EF67EB"/>
<text x="1326.6" y="450.5" font-family="Liberation Sans, sans-serif" font-size="23.5" fill="#000" textLength="43" lengthAdjust="spacingAndGlyphs">436</text>
<circle cx="1288.1" cy="487.5" r="6.2" fill="#FD61D3"/>
<text x="1326.6" y="496.6" font-family="Liberation Sans, sans-serif" font-size="23.5" fill="#000" textLength="43" lengthAdjust="spacingAndGlyphs">437</text>
<circle cx="1288.1" cy="533.6" r="6.2" fill="#FF63B6"/>
<text x="1326.6" y="542.7" font-family="Liberation Sans, sans-serif" font-size="23.5" fill="#000" textLength="43" lengthAdjust="spacingAndGlyphs">438</text>
<circle cx="1288.1" cy="579.7" r="6.2" fill="#FF6B94"/>
<text x="1326.6" y="588.8" font-family="Liberation Sans, sans-serif" font-size="23.5" fill="#000" textLength="43" lengthAdjust="spacingAndGlyphs">439</text>
<circle cx="1288.1" cy="625.8" r="6.2" fill="#7F7F7F"/>
<text x="1326.6" y="634.9" font-family="Liberation Sans, sans-serif" font-size="23.5" fill="#000" textLength="33" lengthAdjust="spacingAndGlyphs">NA</text>
</svg></body></html>
